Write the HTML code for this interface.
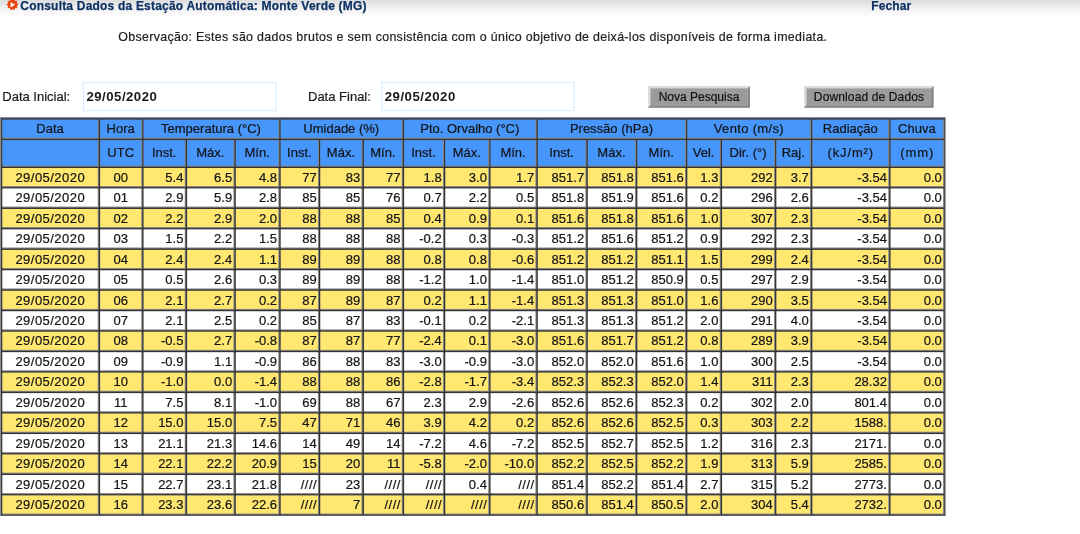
<!DOCTYPE html>
<html lang="pt-BR">
<head>
<meta charset="utf-8">
<title>Consulta Dados da Estação Automática: Monte Verde (MG)</title>
<style>
html,body{margin:0;padding:0;background:#fff;}
body{width:1080px;height:534px;position:relative;overflow:hidden;font-family:"Liberation Sans",sans-serif;color:#1a1a1a;}
.topgrad{position:absolute;left:0;top:0;width:1080px;height:19px;background:linear-gradient(to bottom,#dcdcdc 0,#ececec 6px,#f8f8f8 12px,#ffffff 19px);}
.abs{position:absolute;white-space:nowrap;}
.title{-webkit-text-stroke:0.25px #0f3366;left:20.3px;top:-1.6px;font-size:12px;letter-spacing:0.2px;font-weight:bold;color:#0f3366;line-height:16px;}
.fechar{-webkit-text-stroke:0.25px #0f3366;left:871.2px;top:-1.6px;font-size:12px;letter-spacing:0.12px;font-weight:bold;color:#0f3366;line-height:16px;}
.obs{-webkit-text-stroke:0.2px #222;left:118.3px;top:29.4px;font-size:12.4px;letter-spacing:0.33px;line-height:16px;color:#222;}
.lbl{-webkit-text-stroke:0.2px #1a1a1a;font-size:13px;line-height:16px;color:#1a1a1a;top:89px;}
.inp{box-sizing:border-box;border:1px solid transparent;height:29px;top:82px;font-size:13.2px;font-weight:bold;line-height:27px;padding-left:3.2px;color:#1a1a1a;letter-spacing:0.5px;}
.btn{-webkit-text-stroke:0.2px #111;box-sizing:border-box;top:86px;height:22px;font-size:12px;line-height:22px;text-align:center;color:#111;}
.c{-webkit-text-stroke:0.22px #151515;position:absolute;box-sizing:border-box;white-space:nowrap;overflow:visible;font-size:13px;color:#151515;}
.c span{position:relative;display:inline-block;line-height:inherit;}
.h1 span{top:0px;}
.h2 span{top:0px;}
.d span{top:0;}
.dt span{letter-spacing:0.47px;margin-right:-0.47px;}
.h{text-align:center;}
.ctr{text-align:center;}
.rt{text-align:right;padding-right:1.3px;}
</style>
</head>
<body>
<div class="topgrad"></div>
<svg class="abs" style="left:0;top:0" width="1080" height="534" viewBox="0 0 1080 534"><rect x="0.0" y="117.0" width="945.3" height="398.80" fill="#333333"/>
<rect x="0.0" y="117.0" width="945.3" height="1.0" fill="#8c8c8c"/>
<rect x="0.0" y="117.0" width="1.1" height="398.80" fill="#8c8c8c"/>
<rect x="944.20" y="118.0" width="1.1" height="397.80" fill="#595648"/>
<rect x="1.1" y="118.0" width="943.10" height="1.85" fill="#394b66"/>
<rect x="2.40" y="119.85" width="96.40" height="18.95" fill="#848484"/>
<rect x="2.40" y="119.85" width="95.35" height="17.90" fill="#4796fc"/>
<rect x="100.15" y="119.85" width="42.15" height="18.95" fill="#848484"/>
<rect x="100.15" y="119.85" width="41.10" height="17.90" fill="#4796fc"/>
<rect x="143.65" y="119.85" width="135.75" height="18.95" fill="#848484"/>
<rect x="143.65" y="119.85" width="134.70" height="17.90" fill="#4796fc"/>
<rect x="280.75" y="119.85" width="122.05" height="18.95" fill="#848484"/>
<rect x="280.75" y="119.85" width="121.00" height="17.90" fill="#4796fc"/>
<rect x="404.15" y="119.85" width="132.35" height="18.95" fill="#848484"/>
<rect x="404.15" y="119.85" width="131.30" height="17.90" fill="#4796fc"/>
<rect x="537.85" y="119.85" width="148.25" height="18.95" fill="#848484"/>
<rect x="537.85" y="119.85" width="147.20" height="17.90" fill="#4796fc"/>
<rect x="687.45" y="119.85" width="123.65" height="18.95" fill="#848484"/>
<rect x="687.45" y="119.85" width="122.60" height="17.90" fill="#4796fc"/>
<rect x="812.45" y="119.85" width="76.85" height="18.95" fill="#848484"/>
<rect x="812.45" y="119.85" width="75.80" height="17.90" fill="#4796fc"/>
<rect x="890.65" y="119.85" width="53.45" height="18.95" fill="#848484"/>
<rect x="890.65" y="119.85" width="52.40" height="17.90" fill="#4796fc"/>
<rect x="2.40" y="140.15" width="96.40" height="26.55" fill="#848484"/>
<rect x="2.40" y="140.15" width="95.35" height="25.50" fill="#4796fc"/>
<rect x="100.15" y="140.15" width="42.15" height="26.55" fill="#848484"/>
<rect x="100.15" y="140.15" width="41.10" height="25.50" fill="#4796fc"/>
<rect x="143.65" y="140.15" width="42.15" height="26.55" fill="#848484"/>
<rect x="143.65" y="140.15" width="41.10" height="25.50" fill="#4796fc"/>
<rect x="187.15" y="140.15" width="47.35" height="26.55" fill="#848484"/>
<rect x="187.15" y="140.15" width="46.30" height="25.50" fill="#4796fc"/>
<rect x="235.85" y="140.15" width="43.55" height="26.55" fill="#848484"/>
<rect x="235.85" y="140.15" width="42.50" height="25.50" fill="#4796fc"/>
<rect x="280.75" y="140.15" width="38.25" height="26.55" fill="#848484"/>
<rect x="280.75" y="140.15" width="37.20" height="25.50" fill="#4796fc"/>
<rect x="320.35" y="140.15" width="42.25" height="26.55" fill="#848484"/>
<rect x="320.35" y="140.15" width="41.20" height="25.50" fill="#4796fc"/>
<rect x="363.95" y="140.15" width="38.85" height="26.55" fill="#848484"/>
<rect x="363.95" y="140.15" width="37.80" height="25.50" fill="#4796fc"/>
<rect x="404.15" y="140.15" width="39.85" height="26.55" fill="#848484"/>
<rect x="404.15" y="140.15" width="38.80" height="25.50" fill="#4796fc"/>
<rect x="445.35" y="140.15" width="43.95" height="26.55" fill="#848484"/>
<rect x="445.35" y="140.15" width="42.90" height="25.50" fill="#4796fc"/>
<rect x="490.65" y="140.15" width="45.85" height="26.55" fill="#848484"/>
<rect x="490.65" y="140.15" width="44.80" height="25.50" fill="#4796fc"/>
<rect x="537.85" y="140.15" width="48.65" height="26.55" fill="#848484"/>
<rect x="537.85" y="140.15" width="47.60" height="25.50" fill="#4796fc"/>
<rect x="587.85" y="140.15" width="48.25" height="26.55" fill="#848484"/>
<rect x="587.85" y="140.15" width="47.20" height="25.50" fill="#4796fc"/>
<rect x="637.45" y="140.15" width="48.65" height="26.55" fill="#848484"/>
<rect x="637.45" y="140.15" width="47.60" height="25.50" fill="#4796fc"/>
<rect x="687.45" y="140.15" width="33.35" height="26.55" fill="#848484"/>
<rect x="687.45" y="140.15" width="32.30" height="25.50" fill="#4796fc"/>
<rect x="722.15" y="140.15" width="52.95" height="26.55" fill="#848484"/>
<rect x="722.15" y="140.15" width="51.90" height="25.50" fill="#4796fc"/>
<rect x="776.45" y="140.15" width="34.65" height="26.55" fill="#848484"/>
<rect x="776.45" y="140.15" width="33.60" height="25.50" fill="#4796fc"/>
<rect x="812.45" y="140.15" width="76.85" height="26.55" fill="#848484"/>
<rect x="812.45" y="140.15" width="75.80" height="25.50" fill="#4796fc"/>
<rect x="890.65" y="140.15" width="53.45" height="26.55" fill="#848484"/>
<rect x="890.65" y="140.15" width="52.40" height="25.50" fill="#4796fc"/>
<rect x="2.40" y="168.05" width="96.40" height="19.11" fill="#848484"/>
<rect x="2.40" y="168.05" width="95.35" height="18.06" fill="#ffe770"/>
<rect x="100.15" y="168.05" width="42.15" height="19.11" fill="#848484"/>
<rect x="100.15" y="168.05" width="41.10" height="18.06" fill="#ffe770"/>
<rect x="143.65" y="168.05" width="42.15" height="19.11" fill="#848484"/>
<rect x="143.65" y="168.05" width="41.10" height="18.06" fill="#ffe770"/>
<rect x="187.15" y="168.05" width="47.35" height="19.11" fill="#848484"/>
<rect x="187.15" y="168.05" width="46.30" height="18.06" fill="#ffe770"/>
<rect x="235.85" y="168.05" width="43.55" height="19.11" fill="#848484"/>
<rect x="235.85" y="168.05" width="42.50" height="18.06" fill="#ffe770"/>
<rect x="280.75" y="168.05" width="38.25" height="19.11" fill="#848484"/>
<rect x="280.75" y="168.05" width="37.20" height="18.06" fill="#ffe770"/>
<rect x="320.35" y="168.05" width="42.25" height="19.11" fill="#848484"/>
<rect x="320.35" y="168.05" width="41.20" height="18.06" fill="#ffe770"/>
<rect x="363.95" y="168.05" width="38.85" height="19.11" fill="#848484"/>
<rect x="363.95" y="168.05" width="37.80" height="18.06" fill="#ffe770"/>
<rect x="404.15" y="168.05" width="39.85" height="19.11" fill="#848484"/>
<rect x="404.15" y="168.05" width="38.80" height="18.06" fill="#ffe770"/>
<rect x="445.35" y="168.05" width="43.95" height="19.11" fill="#848484"/>
<rect x="445.35" y="168.05" width="42.90" height="18.06" fill="#ffe770"/>
<rect x="490.65" y="168.05" width="45.85" height="19.11" fill="#848484"/>
<rect x="490.65" y="168.05" width="44.80" height="18.06" fill="#ffe770"/>
<rect x="537.85" y="168.05" width="48.65" height="19.11" fill="#848484"/>
<rect x="537.85" y="168.05" width="47.60" height="18.06" fill="#ffe770"/>
<rect x="587.85" y="168.05" width="48.25" height="19.11" fill="#848484"/>
<rect x="587.85" y="168.05" width="47.20" height="18.06" fill="#ffe770"/>
<rect x="637.45" y="168.05" width="48.65" height="19.11" fill="#848484"/>
<rect x="637.45" y="168.05" width="47.60" height="18.06" fill="#ffe770"/>
<rect x="687.45" y="168.05" width="33.35" height="19.11" fill="#848484"/>
<rect x="687.45" y="168.05" width="32.30" height="18.06" fill="#ffe770"/>
<rect x="722.15" y="168.05" width="52.95" height="19.11" fill="#848484"/>
<rect x="722.15" y="168.05" width="51.90" height="18.06" fill="#ffe770"/>
<rect x="776.45" y="168.05" width="34.65" height="19.11" fill="#848484"/>
<rect x="776.45" y="168.05" width="33.60" height="18.06" fill="#ffe770"/>
<rect x="812.45" y="168.05" width="76.85" height="19.11" fill="#848484"/>
<rect x="812.45" y="168.05" width="75.80" height="18.06" fill="#ffe770"/>
<rect x="890.65" y="168.05" width="53.45" height="19.11" fill="#848484"/>
<rect x="890.65" y="168.05" width="52.40" height="18.06" fill="#ffe770"/>
<rect x="2.40" y="188.52" width="96.40" height="19.11" fill="#848484"/>
<rect x="2.40" y="188.52" width="95.35" height="18.06" fill="#ffffff"/>
<rect x="100.15" y="188.52" width="42.15" height="19.11" fill="#848484"/>
<rect x="100.15" y="188.52" width="41.10" height="18.06" fill="#ffffff"/>
<rect x="143.65" y="188.52" width="42.15" height="19.11" fill="#848484"/>
<rect x="143.65" y="188.52" width="41.10" height="18.06" fill="#ffffff"/>
<rect x="187.15" y="188.52" width="47.35" height="19.11" fill="#848484"/>
<rect x="187.15" y="188.52" width="46.30" height="18.06" fill="#ffffff"/>
<rect x="235.85" y="188.52" width="43.55" height="19.11" fill="#848484"/>
<rect x="235.85" y="188.52" width="42.50" height="18.06" fill="#ffffff"/>
<rect x="280.75" y="188.52" width="38.25" height="19.11" fill="#848484"/>
<rect x="280.75" y="188.52" width="37.20" height="18.06" fill="#ffffff"/>
<rect x="320.35" y="188.52" width="42.25" height="19.11" fill="#848484"/>
<rect x="320.35" y="188.52" width="41.20" height="18.06" fill="#ffffff"/>
<rect x="363.95" y="188.52" width="38.85" height="19.11" fill="#848484"/>
<rect x="363.95" y="188.52" width="37.80" height="18.06" fill="#ffffff"/>
<rect x="404.15" y="188.52" width="39.85" height="19.11" fill="#848484"/>
<rect x="404.15" y="188.52" width="38.80" height="18.06" fill="#ffffff"/>
<rect x="445.35" y="188.52" width="43.95" height="19.11" fill="#848484"/>
<rect x="445.35" y="188.52" width="42.90" height="18.06" fill="#ffffff"/>
<rect x="490.65" y="188.52" width="45.85" height="19.11" fill="#848484"/>
<rect x="490.65" y="188.52" width="44.80" height="18.06" fill="#ffffff"/>
<rect x="537.85" y="188.52" width="48.65" height="19.11" fill="#848484"/>
<rect x="537.85" y="188.52" width="47.60" height="18.06" fill="#ffffff"/>
<rect x="587.85" y="188.52" width="48.25" height="19.11" fill="#848484"/>
<rect x="587.85" y="188.52" width="47.20" height="18.06" fill="#ffffff"/>
<rect x="637.45" y="188.52" width="48.65" height="19.11" fill="#848484"/>
<rect x="637.45" y="188.52" width="47.60" height="18.06" fill="#ffffff"/>
<rect x="687.45" y="188.52" width="33.35" height="19.11" fill="#848484"/>
<rect x="687.45" y="188.52" width="32.30" height="18.06" fill="#ffffff"/>
<rect x="722.15" y="188.52" width="52.95" height="19.11" fill="#848484"/>
<rect x="722.15" y="188.52" width="51.90" height="18.06" fill="#ffffff"/>
<rect x="776.45" y="188.52" width="34.65" height="19.11" fill="#848484"/>
<rect x="776.45" y="188.52" width="33.60" height="18.06" fill="#ffffff"/>
<rect x="812.45" y="188.52" width="76.85" height="19.11" fill="#848484"/>
<rect x="812.45" y="188.52" width="75.80" height="18.06" fill="#ffffff"/>
<rect x="890.65" y="188.52" width="53.45" height="19.11" fill="#848484"/>
<rect x="890.65" y="188.52" width="52.40" height="18.06" fill="#ffffff"/>
<rect x="2.40" y="208.98" width="96.40" height="19.11" fill="#848484"/>
<rect x="2.40" y="208.98" width="95.35" height="18.06" fill="#ffe770"/>
<rect x="100.15" y="208.98" width="42.15" height="19.11" fill="#848484"/>
<rect x="100.15" y="208.98" width="41.10" height="18.06" fill="#ffe770"/>
<rect x="143.65" y="208.98" width="42.15" height="19.11" fill="#848484"/>
<rect x="143.65" y="208.98" width="41.10" height="18.06" fill="#ffe770"/>
<rect x="187.15" y="208.98" width="47.35" height="19.11" fill="#848484"/>
<rect x="187.15" y="208.98" width="46.30" height="18.06" fill="#ffe770"/>
<rect x="235.85" y="208.98" width="43.55" height="19.11" fill="#848484"/>
<rect x="235.85" y="208.98" width="42.50" height="18.06" fill="#ffe770"/>
<rect x="280.75" y="208.98" width="38.25" height="19.11" fill="#848484"/>
<rect x="280.75" y="208.98" width="37.20" height="18.06" fill="#ffe770"/>
<rect x="320.35" y="208.98" width="42.25" height="19.11" fill="#848484"/>
<rect x="320.35" y="208.98" width="41.20" height="18.06" fill="#ffe770"/>
<rect x="363.95" y="208.98" width="38.85" height="19.11" fill="#848484"/>
<rect x="363.95" y="208.98" width="37.80" height="18.06" fill="#ffe770"/>
<rect x="404.15" y="208.98" width="39.85" height="19.11" fill="#848484"/>
<rect x="404.15" y="208.98" width="38.80" height="18.06" fill="#ffe770"/>
<rect x="445.35" y="208.98" width="43.95" height="19.11" fill="#848484"/>
<rect x="445.35" y="208.98" width="42.90" height="18.06" fill="#ffe770"/>
<rect x="490.65" y="208.98" width="45.85" height="19.11" fill="#848484"/>
<rect x="490.65" y="208.98" width="44.80" height="18.06" fill="#ffe770"/>
<rect x="537.85" y="208.98" width="48.65" height="19.11" fill="#848484"/>
<rect x="537.85" y="208.98" width="47.60" height="18.06" fill="#ffe770"/>
<rect x="587.85" y="208.98" width="48.25" height="19.11" fill="#848484"/>
<rect x="587.85" y="208.98" width="47.20" height="18.06" fill="#ffe770"/>
<rect x="637.45" y="208.98" width="48.65" height="19.11" fill="#848484"/>
<rect x="637.45" y="208.98" width="47.60" height="18.06" fill="#ffe770"/>
<rect x="687.45" y="208.98" width="33.35" height="19.11" fill="#848484"/>
<rect x="687.45" y="208.98" width="32.30" height="18.06" fill="#ffe770"/>
<rect x="722.15" y="208.98" width="52.95" height="19.11" fill="#848484"/>
<rect x="722.15" y="208.98" width="51.90" height="18.06" fill="#ffe770"/>
<rect x="776.45" y="208.98" width="34.65" height="19.11" fill="#848484"/>
<rect x="776.45" y="208.98" width="33.60" height="18.06" fill="#ffe770"/>
<rect x="812.45" y="208.98" width="76.85" height="19.11" fill="#848484"/>
<rect x="812.45" y="208.98" width="75.80" height="18.06" fill="#ffe770"/>
<rect x="890.65" y="208.98" width="53.45" height="19.11" fill="#848484"/>
<rect x="890.65" y="208.98" width="52.40" height="18.06" fill="#ffe770"/>
<rect x="2.40" y="229.45" width="96.40" height="19.11" fill="#848484"/>
<rect x="2.40" y="229.45" width="95.35" height="18.06" fill="#ffffff"/>
<rect x="100.15" y="229.45" width="42.15" height="19.11" fill="#848484"/>
<rect x="100.15" y="229.45" width="41.10" height="18.06" fill="#ffffff"/>
<rect x="143.65" y="229.45" width="42.15" height="19.11" fill="#848484"/>
<rect x="143.65" y="229.45" width="41.10" height="18.06" fill="#ffffff"/>
<rect x="187.15" y="229.45" width="47.35" height="19.11" fill="#848484"/>
<rect x="187.15" y="229.45" width="46.30" height="18.06" fill="#ffffff"/>
<rect x="235.85" y="229.45" width="43.55" height="19.11" fill="#848484"/>
<rect x="235.85" y="229.45" width="42.50" height="18.06" fill="#ffffff"/>
<rect x="280.75" y="229.45" width="38.25" height="19.11" fill="#848484"/>
<rect x="280.75" y="229.45" width="37.20" height="18.06" fill="#ffffff"/>
<rect x="320.35" y="229.45" width="42.25" height="19.11" fill="#848484"/>
<rect x="320.35" y="229.45" width="41.20" height="18.06" fill="#ffffff"/>
<rect x="363.95" y="229.45" width="38.85" height="19.11" fill="#848484"/>
<rect x="363.95" y="229.45" width="37.80" height="18.06" fill="#ffffff"/>
<rect x="404.15" y="229.45" width="39.85" height="19.11" fill="#848484"/>
<rect x="404.15" y="229.45" width="38.80" height="18.06" fill="#ffffff"/>
<rect x="445.35" y="229.45" width="43.95" height="19.11" fill="#848484"/>
<rect x="445.35" y="229.45" width="42.90" height="18.06" fill="#ffffff"/>
<rect x="490.65" y="229.45" width="45.85" height="19.11" fill="#848484"/>
<rect x="490.65" y="229.45" width="44.80" height="18.06" fill="#ffffff"/>
<rect x="537.85" y="229.45" width="48.65" height="19.11" fill="#848484"/>
<rect x="537.85" y="229.45" width="47.60" height="18.06" fill="#ffffff"/>
<rect x="587.85" y="229.45" width="48.25" height="19.11" fill="#848484"/>
<rect x="587.85" y="229.45" width="47.20" height="18.06" fill="#ffffff"/>
<rect x="637.45" y="229.45" width="48.65" height="19.11" fill="#848484"/>
<rect x="637.45" y="229.45" width="47.60" height="18.06" fill="#ffffff"/>
<rect x="687.45" y="229.45" width="33.35" height="19.11" fill="#848484"/>
<rect x="687.45" y="229.45" width="32.30" height="18.06" fill="#ffffff"/>
<rect x="722.15" y="229.45" width="52.95" height="19.11" fill="#848484"/>
<rect x="722.15" y="229.45" width="51.90" height="18.06" fill="#ffffff"/>
<rect x="776.45" y="229.45" width="34.65" height="19.11" fill="#848484"/>
<rect x="776.45" y="229.45" width="33.60" height="18.06" fill="#ffffff"/>
<rect x="812.45" y="229.45" width="76.85" height="19.11" fill="#848484"/>
<rect x="812.45" y="229.45" width="75.80" height="18.06" fill="#ffffff"/>
<rect x="890.65" y="229.45" width="53.45" height="19.11" fill="#848484"/>
<rect x="890.65" y="229.45" width="52.40" height="18.06" fill="#ffffff"/>
<rect x="2.40" y="249.91" width="96.40" height="19.12" fill="#848484"/>
<rect x="2.40" y="249.91" width="95.35" height="18.07" fill="#ffe770"/>
<rect x="100.15" y="249.91" width="42.15" height="19.12" fill="#848484"/>
<rect x="100.15" y="249.91" width="41.10" height="18.07" fill="#ffe770"/>
<rect x="143.65" y="249.91" width="42.15" height="19.12" fill="#848484"/>
<rect x="143.65" y="249.91" width="41.10" height="18.07" fill="#ffe770"/>
<rect x="187.15" y="249.91" width="47.35" height="19.12" fill="#848484"/>
<rect x="187.15" y="249.91" width="46.30" height="18.07" fill="#ffe770"/>
<rect x="235.85" y="249.91" width="43.55" height="19.12" fill="#848484"/>
<rect x="235.85" y="249.91" width="42.50" height="18.07" fill="#ffe770"/>
<rect x="280.75" y="249.91" width="38.25" height="19.12" fill="#848484"/>
<rect x="280.75" y="249.91" width="37.20" height="18.07" fill="#ffe770"/>
<rect x="320.35" y="249.91" width="42.25" height="19.12" fill="#848484"/>
<rect x="320.35" y="249.91" width="41.20" height="18.07" fill="#ffe770"/>
<rect x="363.95" y="249.91" width="38.85" height="19.12" fill="#848484"/>
<rect x="363.95" y="249.91" width="37.80" height="18.07" fill="#ffe770"/>
<rect x="404.15" y="249.91" width="39.85" height="19.12" fill="#848484"/>
<rect x="404.15" y="249.91" width="38.80" height="18.07" fill="#ffe770"/>
<rect x="445.35" y="249.91" width="43.95" height="19.12" fill="#848484"/>
<rect x="445.35" y="249.91" width="42.90" height="18.07" fill="#ffe770"/>
<rect x="490.65" y="249.91" width="45.85" height="19.12" fill="#848484"/>
<rect x="490.65" y="249.91" width="44.80" height="18.07" fill="#ffe770"/>
<rect x="537.85" y="249.91" width="48.65" height="19.12" fill="#848484"/>
<rect x="537.85" y="249.91" width="47.60" height="18.07" fill="#ffe770"/>
<rect x="587.85" y="249.91" width="48.25" height="19.12" fill="#848484"/>
<rect x="587.85" y="249.91" width="47.20" height="18.07" fill="#ffe770"/>
<rect x="637.45" y="249.91" width="48.65" height="19.12" fill="#848484"/>
<rect x="637.45" y="249.91" width="47.60" height="18.07" fill="#ffe770"/>
<rect x="687.45" y="249.91" width="33.35" height="19.12" fill="#848484"/>
<rect x="687.45" y="249.91" width="32.30" height="18.07" fill="#ffe770"/>
<rect x="722.15" y="249.91" width="52.95" height="19.12" fill="#848484"/>
<rect x="722.15" y="249.91" width="51.90" height="18.07" fill="#ffe770"/>
<rect x="776.45" y="249.91" width="34.65" height="19.12" fill="#848484"/>
<rect x="776.45" y="249.91" width="33.60" height="18.07" fill="#ffe770"/>
<rect x="812.45" y="249.91" width="76.85" height="19.12" fill="#848484"/>
<rect x="812.45" y="249.91" width="75.80" height="18.07" fill="#ffe770"/>
<rect x="890.65" y="249.91" width="53.45" height="19.12" fill="#848484"/>
<rect x="890.65" y="249.91" width="52.40" height="18.07" fill="#ffe770"/>
<rect x="2.40" y="270.38" width="96.40" height="19.11" fill="#848484"/>
<rect x="2.40" y="270.38" width="95.35" height="18.06" fill="#ffffff"/>
<rect x="100.15" y="270.38" width="42.15" height="19.11" fill="#848484"/>
<rect x="100.15" y="270.38" width="41.10" height="18.06" fill="#ffffff"/>
<rect x="143.65" y="270.38" width="42.15" height="19.11" fill="#848484"/>
<rect x="143.65" y="270.38" width="41.10" height="18.06" fill="#ffffff"/>
<rect x="187.15" y="270.38" width="47.35" height="19.11" fill="#848484"/>
<rect x="187.15" y="270.38" width="46.30" height="18.06" fill="#ffffff"/>
<rect x="235.85" y="270.38" width="43.55" height="19.11" fill="#848484"/>
<rect x="235.85" y="270.38" width="42.50" height="18.06" fill="#ffffff"/>
<rect x="280.75" y="270.38" width="38.25" height="19.11" fill="#848484"/>
<rect x="280.75" y="270.38" width="37.20" height="18.06" fill="#ffffff"/>
<rect x="320.35" y="270.38" width="42.25" height="19.11" fill="#848484"/>
<rect x="320.35" y="270.38" width="41.20" height="18.06" fill="#ffffff"/>
<rect x="363.95" y="270.38" width="38.85" height="19.11" fill="#848484"/>
<rect x="363.95" y="270.38" width="37.80" height="18.06" fill="#ffffff"/>
<rect x="404.15" y="270.38" width="39.85" height="19.11" fill="#848484"/>
<rect x="404.15" y="270.38" width="38.80" height="18.06" fill="#ffffff"/>
<rect x="445.35" y="270.38" width="43.95" height="19.11" fill="#848484"/>
<rect x="445.35" y="270.38" width="42.90" height="18.06" fill="#ffffff"/>
<rect x="490.65" y="270.38" width="45.85" height="19.11" fill="#848484"/>
<rect x="490.65" y="270.38" width="44.80" height="18.06" fill="#ffffff"/>
<rect x="537.85" y="270.38" width="48.65" height="19.11" fill="#848484"/>
<rect x="537.85" y="270.38" width="47.60" height="18.06" fill="#ffffff"/>
<rect x="587.85" y="270.38" width="48.25" height="19.11" fill="#848484"/>
<rect x="587.85" y="270.38" width="47.20" height="18.06" fill="#ffffff"/>
<rect x="637.45" y="270.38" width="48.65" height="19.11" fill="#848484"/>
<rect x="637.45" y="270.38" width="47.60" height="18.06" fill="#ffffff"/>
<rect x="687.45" y="270.38" width="33.35" height="19.11" fill="#848484"/>
<rect x="687.45" y="270.38" width="32.30" height="18.06" fill="#ffffff"/>
<rect x="722.15" y="270.38" width="52.95" height="19.11" fill="#848484"/>
<rect x="722.15" y="270.38" width="51.90" height="18.06" fill="#ffffff"/>
<rect x="776.45" y="270.38" width="34.65" height="19.11" fill="#848484"/>
<rect x="776.45" y="270.38" width="33.60" height="18.06" fill="#ffffff"/>
<rect x="812.45" y="270.38" width="76.85" height="19.11" fill="#848484"/>
<rect x="812.45" y="270.38" width="75.80" height="18.06" fill="#ffffff"/>
<rect x="890.65" y="270.38" width="53.45" height="19.11" fill="#848484"/>
<rect x="890.65" y="270.38" width="52.40" height="18.06" fill="#ffffff"/>
<rect x="2.40" y="290.84" width="96.40" height="19.11" fill="#848484"/>
<rect x="2.40" y="290.84" width="95.35" height="18.06" fill="#ffe770"/>
<rect x="100.15" y="290.84" width="42.15" height="19.11" fill="#848484"/>
<rect x="100.15" y="290.84" width="41.10" height="18.06" fill="#ffe770"/>
<rect x="143.65" y="290.84" width="42.15" height="19.11" fill="#848484"/>
<rect x="143.65" y="290.84" width="41.10" height="18.06" fill="#ffe770"/>
<rect x="187.15" y="290.84" width="47.35" height="19.11" fill="#848484"/>
<rect x="187.15" y="290.84" width="46.30" height="18.06" fill="#ffe770"/>
<rect x="235.85" y="290.84" width="43.55" height="19.11" fill="#848484"/>
<rect x="235.85" y="290.84" width="42.50" height="18.06" fill="#ffe770"/>
<rect x="280.75" y="290.84" width="38.25" height="19.11" fill="#848484"/>
<rect x="280.75" y="290.84" width="37.20" height="18.06" fill="#ffe770"/>
<rect x="320.35" y="290.84" width="42.25" height="19.11" fill="#848484"/>
<rect x="320.35" y="290.84" width="41.20" height="18.06" fill="#ffe770"/>
<rect x="363.95" y="290.84" width="38.85" height="19.11" fill="#848484"/>
<rect x="363.95" y="290.84" width="37.80" height="18.06" fill="#ffe770"/>
<rect x="404.15" y="290.84" width="39.85" height="19.11" fill="#848484"/>
<rect x="404.15" y="290.84" width="38.80" height="18.06" fill="#ffe770"/>
<rect x="445.35" y="290.84" width="43.95" height="19.11" fill="#848484"/>
<rect x="445.35" y="290.84" width="42.90" height="18.06" fill="#ffe770"/>
<rect x="490.65" y="290.84" width="45.85" height="19.11" fill="#848484"/>
<rect x="490.65" y="290.84" width="44.80" height="18.06" fill="#ffe770"/>
<rect x="537.85" y="290.84" width="48.65" height="19.11" fill="#848484"/>
<rect x="537.85" y="290.84" width="47.60" height="18.06" fill="#ffe770"/>
<rect x="587.85" y="290.84" width="48.25" height="19.11" fill="#848484"/>
<rect x="587.85" y="290.84" width="47.20" height="18.06" fill="#ffe770"/>
<rect x="637.45" y="290.84" width="48.65" height="19.11" fill="#848484"/>
<rect x="637.45" y="290.84" width="47.60" height="18.06" fill="#ffe770"/>
<rect x="687.45" y="290.84" width="33.35" height="19.11" fill="#848484"/>
<rect x="687.45" y="290.84" width="32.30" height="18.06" fill="#ffe770"/>
<rect x="722.15" y="290.84" width="52.95" height="19.11" fill="#848484"/>
<rect x="722.15" y="290.84" width="51.90" height="18.06" fill="#ffe770"/>
<rect x="776.45" y="290.84" width="34.65" height="19.11" fill="#848484"/>
<rect x="776.45" y="290.84" width="33.60" height="18.06" fill="#ffe770"/>
<rect x="812.45" y="290.84" width="76.85" height="19.11" fill="#848484"/>
<rect x="812.45" y="290.84" width="75.80" height="18.06" fill="#ffe770"/>
<rect x="890.65" y="290.84" width="53.45" height="19.11" fill="#848484"/>
<rect x="890.65" y="290.84" width="52.40" height="18.06" fill="#ffe770"/>
<rect x="2.40" y="311.30" width="96.40" height="19.12" fill="#848484"/>
<rect x="2.40" y="311.30" width="95.35" height="18.07" fill="#ffffff"/>
<rect x="100.15" y="311.30" width="42.15" height="19.12" fill="#848484"/>
<rect x="100.15" y="311.30" width="41.10" height="18.07" fill="#ffffff"/>
<rect x="143.65" y="311.30" width="42.15" height="19.12" fill="#848484"/>
<rect x="143.65" y="311.30" width="41.10" height="18.07" fill="#ffffff"/>
<rect x="187.15" y="311.30" width="47.35" height="19.12" fill="#848484"/>
<rect x="187.15" y="311.30" width="46.30" height="18.07" fill="#ffffff"/>
<rect x="235.85" y="311.30" width="43.55" height="19.12" fill="#848484"/>
<rect x="235.85" y="311.30" width="42.50" height="18.07" fill="#ffffff"/>
<rect x="280.75" y="311.30" width="38.25" height="19.12" fill="#848484"/>
<rect x="280.75" y="311.30" width="37.20" height="18.07" fill="#ffffff"/>
<rect x="320.35" y="311.30" width="42.25" height="19.12" fill="#848484"/>
<rect x="320.35" y="311.30" width="41.20" height="18.07" fill="#ffffff"/>
<rect x="363.95" y="311.30" width="38.85" height="19.12" fill="#848484"/>
<rect x="363.95" y="311.30" width="37.80" height="18.07" fill="#ffffff"/>
<rect x="404.15" y="311.30" width="39.85" height="19.12" fill="#848484"/>
<rect x="404.15" y="311.30" width="38.80" height="18.07" fill="#ffffff"/>
<rect x="445.35" y="311.30" width="43.95" height="19.12" fill="#848484"/>
<rect x="445.35" y="311.30" width="42.90" height="18.07" fill="#ffffff"/>
<rect x="490.65" y="311.30" width="45.85" height="19.12" fill="#848484"/>
<rect x="490.65" y="311.30" width="44.80" height="18.07" fill="#ffffff"/>
<rect x="537.85" y="311.30" width="48.65" height="19.12" fill="#848484"/>
<rect x="537.85" y="311.30" width="47.60" height="18.07" fill="#ffffff"/>
<rect x="587.85" y="311.30" width="48.25" height="19.12" fill="#848484"/>
<rect x="587.85" y="311.30" width="47.20" height="18.07" fill="#ffffff"/>
<rect x="637.45" y="311.30" width="48.65" height="19.12" fill="#848484"/>
<rect x="637.45" y="311.30" width="47.60" height="18.07" fill="#ffffff"/>
<rect x="687.45" y="311.30" width="33.35" height="19.12" fill="#848484"/>
<rect x="687.45" y="311.30" width="32.30" height="18.07" fill="#ffffff"/>
<rect x="722.15" y="311.30" width="52.95" height="19.12" fill="#848484"/>
<rect x="722.15" y="311.30" width="51.90" height="18.07" fill="#ffffff"/>
<rect x="776.45" y="311.30" width="34.65" height="19.12" fill="#848484"/>
<rect x="776.45" y="311.30" width="33.60" height="18.07" fill="#ffffff"/>
<rect x="812.45" y="311.30" width="76.85" height="19.12" fill="#848484"/>
<rect x="812.45" y="311.30" width="75.80" height="18.07" fill="#ffffff"/>
<rect x="890.65" y="311.30" width="53.45" height="19.12" fill="#848484"/>
<rect x="890.65" y="311.30" width="52.40" height="18.07" fill="#ffffff"/>
<rect x="2.40" y="331.77" width="96.40" height="19.12" fill="#848484"/>
<rect x="2.40" y="331.77" width="95.35" height="18.07" fill="#ffe770"/>
<rect x="100.15" y="331.77" width="42.15" height="19.12" fill="#848484"/>
<rect x="100.15" y="331.77" width="41.10" height="18.07" fill="#ffe770"/>
<rect x="143.65" y="331.77" width="42.15" height="19.12" fill="#848484"/>
<rect x="143.65" y="331.77" width="41.10" height="18.07" fill="#ffe770"/>
<rect x="187.15" y="331.77" width="47.35" height="19.12" fill="#848484"/>
<rect x="187.15" y="331.77" width="46.30" height="18.07" fill="#ffe770"/>
<rect x="235.85" y="331.77" width="43.55" height="19.12" fill="#848484"/>
<rect x="235.85" y="331.77" width="42.50" height="18.07" fill="#ffe770"/>
<rect x="280.75" y="331.77" width="38.25" height="19.12" fill="#848484"/>
<rect x="280.75" y="331.77" width="37.20" height="18.07" fill="#ffe770"/>
<rect x="320.35" y="331.77" width="42.25" height="19.12" fill="#848484"/>
<rect x="320.35" y="331.77" width="41.20" height="18.07" fill="#ffe770"/>
<rect x="363.95" y="331.77" width="38.85" height="19.12" fill="#848484"/>
<rect x="363.95" y="331.77" width="37.80" height="18.07" fill="#ffe770"/>
<rect x="404.15" y="331.77" width="39.85" height="19.12" fill="#848484"/>
<rect x="404.15" y="331.77" width="38.80" height="18.07" fill="#ffe770"/>
<rect x="445.35" y="331.77" width="43.95" height="19.12" fill="#848484"/>
<rect x="445.35" y="331.77" width="42.90" height="18.07" fill="#ffe770"/>
<rect x="490.65" y="331.77" width="45.85" height="19.12" fill="#848484"/>
<rect x="490.65" y="331.77" width="44.80" height="18.07" fill="#ffe770"/>
<rect x="537.85" y="331.77" width="48.65" height="19.12" fill="#848484"/>
<rect x="537.85" y="331.77" width="47.60" height="18.07" fill="#ffe770"/>
<rect x="587.85" y="331.77" width="48.25" height="19.12" fill="#848484"/>
<rect x="587.85" y="331.77" width="47.20" height="18.07" fill="#ffe770"/>
<rect x="637.45" y="331.77" width="48.65" height="19.12" fill="#848484"/>
<rect x="637.45" y="331.77" width="47.60" height="18.07" fill="#ffe770"/>
<rect x="687.45" y="331.77" width="33.35" height="19.12" fill="#848484"/>
<rect x="687.45" y="331.77" width="32.30" height="18.07" fill="#ffe770"/>
<rect x="722.15" y="331.77" width="52.95" height="19.12" fill="#848484"/>
<rect x="722.15" y="331.77" width="51.90" height="18.07" fill="#ffe770"/>
<rect x="776.45" y="331.77" width="34.65" height="19.12" fill="#848484"/>
<rect x="776.45" y="331.77" width="33.60" height="18.07" fill="#ffe770"/>
<rect x="812.45" y="331.77" width="76.85" height="19.12" fill="#848484"/>
<rect x="812.45" y="331.77" width="75.80" height="18.07" fill="#ffe770"/>
<rect x="890.65" y="331.77" width="53.45" height="19.12" fill="#848484"/>
<rect x="890.65" y="331.77" width="52.40" height="18.07" fill="#ffe770"/>
<rect x="2.40" y="352.24" width="96.40" height="19.11" fill="#848484"/>
<rect x="2.40" y="352.24" width="95.35" height="18.06" fill="#ffffff"/>
<rect x="100.15" y="352.24" width="42.15" height="19.11" fill="#848484"/>
<rect x="100.15" y="352.24" width="41.10" height="18.06" fill="#ffffff"/>
<rect x="143.65" y="352.24" width="42.15" height="19.11" fill="#848484"/>
<rect x="143.65" y="352.24" width="41.10" height="18.06" fill="#ffffff"/>
<rect x="187.15" y="352.24" width="47.35" height="19.11" fill="#848484"/>
<rect x="187.15" y="352.24" width="46.30" height="18.06" fill="#ffffff"/>
<rect x="235.85" y="352.24" width="43.55" height="19.11" fill="#848484"/>
<rect x="235.85" y="352.24" width="42.50" height="18.06" fill="#ffffff"/>
<rect x="280.75" y="352.24" width="38.25" height="19.11" fill="#848484"/>
<rect x="280.75" y="352.24" width="37.20" height="18.06" fill="#ffffff"/>
<rect x="320.35" y="352.24" width="42.25" height="19.11" fill="#848484"/>
<rect x="320.35" y="352.24" width="41.20" height="18.06" fill="#ffffff"/>
<rect x="363.95" y="352.24" width="38.85" height="19.11" fill="#848484"/>
<rect x="363.95" y="352.24" width="37.80" height="18.06" fill="#ffffff"/>
<rect x="404.15" y="352.24" width="39.85" height="19.11" fill="#848484"/>
<rect x="404.15" y="352.24" width="38.80" height="18.06" fill="#ffffff"/>
<rect x="445.35" y="352.24" width="43.95" height="19.11" fill="#848484"/>
<rect x="445.35" y="352.24" width="42.90" height="18.06" fill="#ffffff"/>
<rect x="490.65" y="352.24" width="45.85" height="19.11" fill="#848484"/>
<rect x="490.65" y="352.24" width="44.80" height="18.06" fill="#ffffff"/>
<rect x="537.85" y="352.24" width="48.65" height="19.11" fill="#848484"/>
<rect x="537.85" y="352.24" width="47.60" height="18.06" fill="#ffffff"/>
<rect x="587.85" y="352.24" width="48.25" height="19.11" fill="#848484"/>
<rect x="587.85" y="352.24" width="47.20" height="18.06" fill="#ffffff"/>
<rect x="637.45" y="352.24" width="48.65" height="19.11" fill="#848484"/>
<rect x="637.45" y="352.24" width="47.60" height="18.06" fill="#ffffff"/>
<rect x="687.45" y="352.24" width="33.35" height="19.11" fill="#848484"/>
<rect x="687.45" y="352.24" width="32.30" height="18.06" fill="#ffffff"/>
<rect x="722.15" y="352.24" width="52.95" height="19.11" fill="#848484"/>
<rect x="722.15" y="352.24" width="51.90" height="18.06" fill="#ffffff"/>
<rect x="776.45" y="352.24" width="34.65" height="19.11" fill="#848484"/>
<rect x="776.45" y="352.24" width="33.60" height="18.06" fill="#ffffff"/>
<rect x="812.45" y="352.24" width="76.85" height="19.11" fill="#848484"/>
<rect x="812.45" y="352.24" width="75.80" height="18.06" fill="#ffffff"/>
<rect x="890.65" y="352.24" width="53.45" height="19.11" fill="#848484"/>
<rect x="890.65" y="352.24" width="52.40" height="18.06" fill="#ffffff"/>
<rect x="2.40" y="372.70" width="96.40" height="19.11" fill="#848484"/>
<rect x="2.40" y="372.70" width="95.35" height="18.06" fill="#ffe770"/>
<rect x="100.15" y="372.70" width="42.15" height="19.11" fill="#848484"/>
<rect x="100.15" y="372.70" width="41.10" height="18.06" fill="#ffe770"/>
<rect x="143.65" y="372.70" width="42.15" height="19.11" fill="#848484"/>
<rect x="143.65" y="372.70" width="41.10" height="18.06" fill="#ffe770"/>
<rect x="187.15" y="372.70" width="47.35" height="19.11" fill="#848484"/>
<rect x="187.15" y="372.70" width="46.30" height="18.06" fill="#ffe770"/>
<rect x="235.85" y="372.70" width="43.55" height="19.11" fill="#848484"/>
<rect x="235.85" y="372.70" width="42.50" height="18.06" fill="#ffe770"/>
<rect x="280.75" y="372.70" width="38.25" height="19.11" fill="#848484"/>
<rect x="280.75" y="372.70" width="37.20" height="18.06" fill="#ffe770"/>
<rect x="320.35" y="372.70" width="42.25" height="19.11" fill="#848484"/>
<rect x="320.35" y="372.70" width="41.20" height="18.06" fill="#ffe770"/>
<rect x="363.95" y="372.70" width="38.85" height="19.11" fill="#848484"/>
<rect x="363.95" y="372.70" width="37.80" height="18.06" fill="#ffe770"/>
<rect x="404.15" y="372.70" width="39.85" height="19.11" fill="#848484"/>
<rect x="404.15" y="372.70" width="38.80" height="18.06" fill="#ffe770"/>
<rect x="445.35" y="372.70" width="43.95" height="19.11" fill="#848484"/>
<rect x="445.35" y="372.70" width="42.90" height="18.06" fill="#ffe770"/>
<rect x="490.65" y="372.70" width="45.85" height="19.11" fill="#848484"/>
<rect x="490.65" y="372.70" width="44.80" height="18.06" fill="#ffe770"/>
<rect x="537.85" y="372.70" width="48.65" height="19.11" fill="#848484"/>
<rect x="537.85" y="372.70" width="47.60" height="18.06" fill="#ffe770"/>
<rect x="587.85" y="372.70" width="48.25" height="19.11" fill="#848484"/>
<rect x="587.85" y="372.70" width="47.20" height="18.06" fill="#ffe770"/>
<rect x="637.45" y="372.70" width="48.65" height="19.11" fill="#848484"/>
<rect x="637.45" y="372.70" width="47.60" height="18.06" fill="#ffe770"/>
<rect x="687.45" y="372.70" width="33.35" height="19.11" fill="#848484"/>
<rect x="687.45" y="372.70" width="32.30" height="18.06" fill="#ffe770"/>
<rect x="722.15" y="372.70" width="52.95" height="19.11" fill="#848484"/>
<rect x="722.15" y="372.70" width="51.90" height="18.06" fill="#ffe770"/>
<rect x="776.45" y="372.70" width="34.65" height="19.11" fill="#848484"/>
<rect x="776.45" y="372.70" width="33.60" height="18.06" fill="#ffe770"/>
<rect x="812.45" y="372.70" width="76.85" height="19.11" fill="#848484"/>
<rect x="812.45" y="372.70" width="75.80" height="18.06" fill="#ffe770"/>
<rect x="890.65" y="372.70" width="53.45" height="19.11" fill="#848484"/>
<rect x="890.65" y="372.70" width="52.40" height="18.06" fill="#ffe770"/>
<rect x="2.40" y="393.16" width="96.40" height="19.12" fill="#848484"/>
<rect x="2.40" y="393.16" width="95.35" height="18.07" fill="#ffffff"/>
<rect x="100.15" y="393.16" width="42.15" height="19.12" fill="#848484"/>
<rect x="100.15" y="393.16" width="41.10" height="18.07" fill="#ffffff"/>
<rect x="143.65" y="393.16" width="42.15" height="19.12" fill="#848484"/>
<rect x="143.65" y="393.16" width="41.10" height="18.07" fill="#ffffff"/>
<rect x="187.15" y="393.16" width="47.35" height="19.12" fill="#848484"/>
<rect x="187.15" y="393.16" width="46.30" height="18.07" fill="#ffffff"/>
<rect x="235.85" y="393.16" width="43.55" height="19.12" fill="#848484"/>
<rect x="235.85" y="393.16" width="42.50" height="18.07" fill="#ffffff"/>
<rect x="280.75" y="393.16" width="38.25" height="19.12" fill="#848484"/>
<rect x="280.75" y="393.16" width="37.20" height="18.07" fill="#ffffff"/>
<rect x="320.35" y="393.16" width="42.25" height="19.12" fill="#848484"/>
<rect x="320.35" y="393.16" width="41.20" height="18.07" fill="#ffffff"/>
<rect x="363.95" y="393.16" width="38.85" height="19.12" fill="#848484"/>
<rect x="363.95" y="393.16" width="37.80" height="18.07" fill="#ffffff"/>
<rect x="404.15" y="393.16" width="39.85" height="19.12" fill="#848484"/>
<rect x="404.15" y="393.16" width="38.80" height="18.07" fill="#ffffff"/>
<rect x="445.35" y="393.16" width="43.95" height="19.12" fill="#848484"/>
<rect x="445.35" y="393.16" width="42.90" height="18.07" fill="#ffffff"/>
<rect x="490.65" y="393.16" width="45.85" height="19.12" fill="#848484"/>
<rect x="490.65" y="393.16" width="44.80" height="18.07" fill="#ffffff"/>
<rect x="537.85" y="393.16" width="48.65" height="19.12" fill="#848484"/>
<rect x="537.85" y="393.16" width="47.60" height="18.07" fill="#ffffff"/>
<rect x="587.85" y="393.16" width="48.25" height="19.12" fill="#848484"/>
<rect x="587.85" y="393.16" width="47.20" height="18.07" fill="#ffffff"/>
<rect x="637.45" y="393.16" width="48.65" height="19.12" fill="#848484"/>
<rect x="637.45" y="393.16" width="47.60" height="18.07" fill="#ffffff"/>
<rect x="687.45" y="393.16" width="33.35" height="19.12" fill="#848484"/>
<rect x="687.45" y="393.16" width="32.30" height="18.07" fill="#ffffff"/>
<rect x="722.15" y="393.16" width="52.95" height="19.12" fill="#848484"/>
<rect x="722.15" y="393.16" width="51.90" height="18.07" fill="#ffffff"/>
<rect x="776.45" y="393.16" width="34.65" height="19.12" fill="#848484"/>
<rect x="776.45" y="393.16" width="33.60" height="18.07" fill="#ffffff"/>
<rect x="812.45" y="393.16" width="76.85" height="19.12" fill="#848484"/>
<rect x="812.45" y="393.16" width="75.80" height="18.07" fill="#ffffff"/>
<rect x="890.65" y="393.16" width="53.45" height="19.12" fill="#848484"/>
<rect x="890.65" y="393.16" width="52.40" height="18.07" fill="#ffffff"/>
<rect x="2.40" y="413.63" width="96.40" height="19.12" fill="#848484"/>
<rect x="2.40" y="413.63" width="95.35" height="18.07" fill="#ffe770"/>
<rect x="100.15" y="413.63" width="42.15" height="19.12" fill="#848484"/>
<rect x="100.15" y="413.63" width="41.10" height="18.07" fill="#ffe770"/>
<rect x="143.65" y="413.63" width="42.15" height="19.12" fill="#848484"/>
<rect x="143.65" y="413.63" width="41.10" height="18.07" fill="#ffe770"/>
<rect x="187.15" y="413.63" width="47.35" height="19.12" fill="#848484"/>
<rect x="187.15" y="413.63" width="46.30" height="18.07" fill="#ffe770"/>
<rect x="235.85" y="413.63" width="43.55" height="19.12" fill="#848484"/>
<rect x="235.85" y="413.63" width="42.50" height="18.07" fill="#ffe770"/>
<rect x="280.75" y="413.63" width="38.25" height="19.12" fill="#848484"/>
<rect x="280.75" y="413.63" width="37.20" height="18.07" fill="#ffe770"/>
<rect x="320.35" y="413.63" width="42.25" height="19.12" fill="#848484"/>
<rect x="320.35" y="413.63" width="41.20" height="18.07" fill="#ffe770"/>
<rect x="363.95" y="413.63" width="38.85" height="19.12" fill="#848484"/>
<rect x="363.95" y="413.63" width="37.80" height="18.07" fill="#ffe770"/>
<rect x="404.15" y="413.63" width="39.85" height="19.12" fill="#848484"/>
<rect x="404.15" y="413.63" width="38.80" height="18.07" fill="#ffe770"/>
<rect x="445.35" y="413.63" width="43.95" height="19.12" fill="#848484"/>
<rect x="445.35" y="413.63" width="42.90" height="18.07" fill="#ffe770"/>
<rect x="490.65" y="413.63" width="45.85" height="19.12" fill="#848484"/>
<rect x="490.65" y="413.63" width="44.80" height="18.07" fill="#ffe770"/>
<rect x="537.85" y="413.63" width="48.65" height="19.12" fill="#848484"/>
<rect x="537.85" y="413.63" width="47.60" height="18.07" fill="#ffe770"/>
<rect x="587.85" y="413.63" width="48.25" height="19.12" fill="#848484"/>
<rect x="587.85" y="413.63" width="47.20" height="18.07" fill="#ffe770"/>
<rect x="637.45" y="413.63" width="48.65" height="19.12" fill="#848484"/>
<rect x="637.45" y="413.63" width="47.60" height="18.07" fill="#ffe770"/>
<rect x="687.45" y="413.63" width="33.35" height="19.12" fill="#848484"/>
<rect x="687.45" y="413.63" width="32.30" height="18.07" fill="#ffe770"/>
<rect x="722.15" y="413.63" width="52.95" height="19.12" fill="#848484"/>
<rect x="722.15" y="413.63" width="51.90" height="18.07" fill="#ffe770"/>
<rect x="776.45" y="413.63" width="34.65" height="19.12" fill="#848484"/>
<rect x="776.45" y="413.63" width="33.60" height="18.07" fill="#ffe770"/>
<rect x="812.45" y="413.63" width="76.85" height="19.12" fill="#848484"/>
<rect x="812.45" y="413.63" width="75.80" height="18.07" fill="#ffe770"/>
<rect x="890.65" y="413.63" width="53.45" height="19.12" fill="#848484"/>
<rect x="890.65" y="413.63" width="52.40" height="18.07" fill="#ffe770"/>
<rect x="2.40" y="434.10" width="96.40" height="19.11" fill="#848484"/>
<rect x="2.40" y="434.10" width="95.35" height="18.06" fill="#ffffff"/>
<rect x="100.15" y="434.10" width="42.15" height="19.11" fill="#848484"/>
<rect x="100.15" y="434.10" width="41.10" height="18.06" fill="#ffffff"/>
<rect x="143.65" y="434.10" width="42.15" height="19.11" fill="#848484"/>
<rect x="143.65" y="434.10" width="41.10" height="18.06" fill="#ffffff"/>
<rect x="187.15" y="434.10" width="47.35" height="19.11" fill="#848484"/>
<rect x="187.15" y="434.10" width="46.30" height="18.06" fill="#ffffff"/>
<rect x="235.85" y="434.10" width="43.55" height="19.11" fill="#848484"/>
<rect x="235.85" y="434.10" width="42.50" height="18.06" fill="#ffffff"/>
<rect x="280.75" y="434.10" width="38.25" height="19.11" fill="#848484"/>
<rect x="280.75" y="434.10" width="37.20" height="18.06" fill="#ffffff"/>
<rect x="320.35" y="434.10" width="42.25" height="19.11" fill="#848484"/>
<rect x="320.35" y="434.10" width="41.20" height="18.06" fill="#ffffff"/>
<rect x="363.95" y="434.10" width="38.85" height="19.11" fill="#848484"/>
<rect x="363.95" y="434.10" width="37.80" height="18.06" fill="#ffffff"/>
<rect x="404.15" y="434.10" width="39.85" height="19.11" fill="#848484"/>
<rect x="404.15" y="434.10" width="38.80" height="18.06" fill="#ffffff"/>
<rect x="445.35" y="434.10" width="43.95" height="19.11" fill="#848484"/>
<rect x="445.35" y="434.10" width="42.90" height="18.06" fill="#ffffff"/>
<rect x="490.65" y="434.10" width="45.85" height="19.11" fill="#848484"/>
<rect x="490.65" y="434.10" width="44.80" height="18.06" fill="#ffffff"/>
<rect x="537.85" y="434.10" width="48.65" height="19.11" fill="#848484"/>
<rect x="537.85" y="434.10" width="47.60" height="18.06" fill="#ffffff"/>
<rect x="587.85" y="434.10" width="48.25" height="19.11" fill="#848484"/>
<rect x="587.85" y="434.10" width="47.20" height="18.06" fill="#ffffff"/>
<rect x="637.45" y="434.10" width="48.65" height="19.11" fill="#848484"/>
<rect x="637.45" y="434.10" width="47.60" height="18.06" fill="#ffffff"/>
<rect x="687.45" y="434.10" width="33.35" height="19.11" fill="#848484"/>
<rect x="687.45" y="434.10" width="32.30" height="18.06" fill="#ffffff"/>
<rect x="722.15" y="434.10" width="52.95" height="19.11" fill="#848484"/>
<rect x="722.15" y="434.10" width="51.90" height="18.06" fill="#ffffff"/>
<rect x="776.45" y="434.10" width="34.65" height="19.11" fill="#848484"/>
<rect x="776.45" y="434.10" width="33.60" height="18.06" fill="#ffffff"/>
<rect x="812.45" y="434.10" width="76.85" height="19.11" fill="#848484"/>
<rect x="812.45" y="434.10" width="75.80" height="18.06" fill="#ffffff"/>
<rect x="890.65" y="434.10" width="53.45" height="19.11" fill="#848484"/>
<rect x="890.65" y="434.10" width="52.40" height="18.06" fill="#ffffff"/>
<rect x="2.40" y="454.56" width="96.40" height="19.12" fill="#848484"/>
<rect x="2.40" y="454.56" width="95.35" height="18.07" fill="#ffe770"/>
<rect x="100.15" y="454.56" width="42.15" height="19.12" fill="#848484"/>
<rect x="100.15" y="454.56" width="41.10" height="18.07" fill="#ffe770"/>
<rect x="143.65" y="454.56" width="42.15" height="19.12" fill="#848484"/>
<rect x="143.65" y="454.56" width="41.10" height="18.07" fill="#ffe770"/>
<rect x="187.15" y="454.56" width="47.35" height="19.12" fill="#848484"/>
<rect x="187.15" y="454.56" width="46.30" height="18.07" fill="#ffe770"/>
<rect x="235.85" y="454.56" width="43.55" height="19.12" fill="#848484"/>
<rect x="235.85" y="454.56" width="42.50" height="18.07" fill="#ffe770"/>
<rect x="280.75" y="454.56" width="38.25" height="19.12" fill="#848484"/>
<rect x="280.75" y="454.56" width="37.20" height="18.07" fill="#ffe770"/>
<rect x="320.35" y="454.56" width="42.25" height="19.12" fill="#848484"/>
<rect x="320.35" y="454.56" width="41.20" height="18.07" fill="#ffe770"/>
<rect x="363.95" y="454.56" width="38.85" height="19.12" fill="#848484"/>
<rect x="363.95" y="454.56" width="37.80" height="18.07" fill="#ffe770"/>
<rect x="404.15" y="454.56" width="39.85" height="19.12" fill="#848484"/>
<rect x="404.15" y="454.56" width="38.80" height="18.07" fill="#ffe770"/>
<rect x="445.35" y="454.56" width="43.95" height="19.12" fill="#848484"/>
<rect x="445.35" y="454.56" width="42.90" height="18.07" fill="#ffe770"/>
<rect x="490.65" y="454.56" width="45.85" height="19.12" fill="#848484"/>
<rect x="490.65" y="454.56" width="44.80" height="18.07" fill="#ffe770"/>
<rect x="537.85" y="454.56" width="48.65" height="19.12" fill="#848484"/>
<rect x="537.85" y="454.56" width="47.60" height="18.07" fill="#ffe770"/>
<rect x="587.85" y="454.56" width="48.25" height="19.12" fill="#848484"/>
<rect x="587.85" y="454.56" width="47.20" height="18.07" fill="#ffe770"/>
<rect x="637.45" y="454.56" width="48.65" height="19.12" fill="#848484"/>
<rect x="637.45" y="454.56" width="47.60" height="18.07" fill="#ffe770"/>
<rect x="687.45" y="454.56" width="33.35" height="19.12" fill="#848484"/>
<rect x="687.45" y="454.56" width="32.30" height="18.07" fill="#ffe770"/>
<rect x="722.15" y="454.56" width="52.95" height="19.12" fill="#848484"/>
<rect x="722.15" y="454.56" width="51.90" height="18.07" fill="#ffe770"/>
<rect x="776.45" y="454.56" width="34.65" height="19.12" fill="#848484"/>
<rect x="776.45" y="454.56" width="33.60" height="18.07" fill="#ffe770"/>
<rect x="812.45" y="454.56" width="76.85" height="19.12" fill="#848484"/>
<rect x="812.45" y="454.56" width="75.80" height="18.07" fill="#ffe770"/>
<rect x="890.65" y="454.56" width="53.45" height="19.12" fill="#848484"/>
<rect x="890.65" y="454.56" width="52.40" height="18.07" fill="#ffe770"/>
<rect x="2.40" y="475.02" width="96.40" height="19.12" fill="#848484"/>
<rect x="2.40" y="475.02" width="95.35" height="18.07" fill="#ffffff"/>
<rect x="100.15" y="475.02" width="42.15" height="19.12" fill="#848484"/>
<rect x="100.15" y="475.02" width="41.10" height="18.07" fill="#ffffff"/>
<rect x="143.65" y="475.02" width="42.15" height="19.12" fill="#848484"/>
<rect x="143.65" y="475.02" width="41.10" height="18.07" fill="#ffffff"/>
<rect x="187.15" y="475.02" width="47.35" height="19.12" fill="#848484"/>
<rect x="187.15" y="475.02" width="46.30" height="18.07" fill="#ffffff"/>
<rect x="235.85" y="475.02" width="43.55" height="19.12" fill="#848484"/>
<rect x="235.85" y="475.02" width="42.50" height="18.07" fill="#ffffff"/>
<rect x="280.75" y="475.02" width="38.25" height="19.12" fill="#848484"/>
<rect x="280.75" y="475.02" width="37.20" height="18.07" fill="#ffffff"/>
<rect x="320.35" y="475.02" width="42.25" height="19.12" fill="#848484"/>
<rect x="320.35" y="475.02" width="41.20" height="18.07" fill="#ffffff"/>
<rect x="363.95" y="475.02" width="38.85" height="19.12" fill="#848484"/>
<rect x="363.95" y="475.02" width="37.80" height="18.07" fill="#ffffff"/>
<rect x="404.15" y="475.02" width="39.85" height="19.12" fill="#848484"/>
<rect x="404.15" y="475.02" width="38.80" height="18.07" fill="#ffffff"/>
<rect x="445.35" y="475.02" width="43.95" height="19.12" fill="#848484"/>
<rect x="445.35" y="475.02" width="42.90" height="18.07" fill="#ffffff"/>
<rect x="490.65" y="475.02" width="45.85" height="19.12" fill="#848484"/>
<rect x="490.65" y="475.02" width="44.80" height="18.07" fill="#ffffff"/>
<rect x="537.85" y="475.02" width="48.65" height="19.12" fill="#848484"/>
<rect x="537.85" y="475.02" width="47.60" height="18.07" fill="#ffffff"/>
<rect x="587.85" y="475.02" width="48.25" height="19.12" fill="#848484"/>
<rect x="587.85" y="475.02" width="47.20" height="18.07" fill="#ffffff"/>
<rect x="637.45" y="475.02" width="48.65" height="19.12" fill="#848484"/>
<rect x="637.45" y="475.02" width="47.60" height="18.07" fill="#ffffff"/>
<rect x="687.45" y="475.02" width="33.35" height="19.12" fill="#848484"/>
<rect x="687.45" y="475.02" width="32.30" height="18.07" fill="#ffffff"/>
<rect x="722.15" y="475.02" width="52.95" height="19.12" fill="#848484"/>
<rect x="722.15" y="475.02" width="51.90" height="18.07" fill="#ffffff"/>
<rect x="776.45" y="475.02" width="34.65" height="19.12" fill="#848484"/>
<rect x="776.45" y="475.02" width="33.60" height="18.07" fill="#ffffff"/>
<rect x="812.45" y="475.02" width="76.85" height="19.12" fill="#848484"/>
<rect x="812.45" y="475.02" width="75.80" height="18.07" fill="#ffffff"/>
<rect x="890.65" y="475.02" width="53.45" height="19.12" fill="#848484"/>
<rect x="890.65" y="475.02" width="52.40" height="18.07" fill="#ffffff"/>
<rect x="2.40" y="495.49" width="96.40" height="19.11" fill="#848484"/>
<rect x="2.40" y="495.49" width="95.35" height="18.06" fill="#ffe770"/>
<rect x="100.15" y="495.49" width="42.15" height="19.11" fill="#848484"/>
<rect x="100.15" y="495.49" width="41.10" height="18.06" fill="#ffe770"/>
<rect x="143.65" y="495.49" width="42.15" height="19.11" fill="#848484"/>
<rect x="143.65" y="495.49" width="41.10" height="18.06" fill="#ffe770"/>
<rect x="187.15" y="495.49" width="47.35" height="19.11" fill="#848484"/>
<rect x="187.15" y="495.49" width="46.30" height="18.06" fill="#ffe770"/>
<rect x="235.85" y="495.49" width="43.55" height="19.11" fill="#848484"/>
<rect x="235.85" y="495.49" width="42.50" height="18.06" fill="#ffe770"/>
<rect x="280.75" y="495.49" width="38.25" height="19.11" fill="#848484"/>
<rect x="280.75" y="495.49" width="37.20" height="18.06" fill="#ffe770"/>
<rect x="320.35" y="495.49" width="42.25" height="19.11" fill="#848484"/>
<rect x="320.35" y="495.49" width="41.20" height="18.06" fill="#ffe770"/>
<rect x="363.95" y="495.49" width="38.85" height="19.11" fill="#848484"/>
<rect x="363.95" y="495.49" width="37.80" height="18.06" fill="#ffe770"/>
<rect x="404.15" y="495.49" width="39.85" height="19.11" fill="#848484"/>
<rect x="404.15" y="495.49" width="38.80" height="18.06" fill="#ffe770"/>
<rect x="445.35" y="495.49" width="43.95" height="19.11" fill="#848484"/>
<rect x="445.35" y="495.49" width="42.90" height="18.06" fill="#ffe770"/>
<rect x="490.65" y="495.49" width="45.85" height="19.11" fill="#848484"/>
<rect x="490.65" y="495.49" width="44.80" height="18.06" fill="#ffe770"/>
<rect x="537.85" y="495.49" width="48.65" height="19.11" fill="#848484"/>
<rect x="537.85" y="495.49" width="47.60" height="18.06" fill="#ffe770"/>
<rect x="587.85" y="495.49" width="48.25" height="19.11" fill="#848484"/>
<rect x="587.85" y="495.49" width="47.20" height="18.06" fill="#ffe770"/>
<rect x="637.45" y="495.49" width="48.65" height="19.11" fill="#848484"/>
<rect x="637.45" y="495.49" width="47.60" height="18.06" fill="#ffe770"/>
<rect x="687.45" y="495.49" width="33.35" height="19.11" fill="#848484"/>
<rect x="687.45" y="495.49" width="32.30" height="18.06" fill="#ffe770"/>
<rect x="722.15" y="495.49" width="52.95" height="19.11" fill="#848484"/>
<rect x="722.15" y="495.49" width="51.90" height="18.06" fill="#ffe770"/>
<rect x="776.45" y="495.49" width="34.65" height="19.11" fill="#848484"/>
<rect x="776.45" y="495.49" width="33.60" height="18.06" fill="#ffe770"/>
<rect x="812.45" y="495.49" width="76.85" height="19.11" fill="#848484"/>
<rect x="812.45" y="495.49" width="75.80" height="18.06" fill="#ffe770"/>
<rect x="890.65" y="495.49" width="53.45" height="19.11" fill="#848484"/>
<rect x="890.65" y="495.49" width="52.40" height="18.06" fill="#ffe770"/>
<rect x="83.4" y="82.5" width="192.60" height="28.2" fill="#ffffff" stroke="#dbeeff" stroke-width="1.1"/>
<rect x="381.6" y="82.5" width="192.60" height="28.2" fill="#ffffff" stroke="#dbeeff" stroke-width="1.1"/>
<rect x="648.0" y="85.9" width="102.00" height="21.90" fill="#dcdcdc"/>
<polygon points="750.0,85.9 750.0,107.8 648.0,107.8 650.5,105.3 747.5,105.3 747.5,88.4" fill="#868686"/>
<rect x="650.5" y="88.4" width="97.00" height="16.90" fill="#9b9b9b"/>
<rect x="804.0" y="85.9" width="129.60" height="21.90" fill="#dcdcdc"/>
<polygon points="933.6,85.9 933.6,107.8 804.0,107.8 806.5,105.3 931.1,105.3 931.1,88.4" fill="#868686"/>
<rect x="806.5" y="88.4" width="124.60" height="16.90" fill="#9b9b9b"/></svg>
<svg class="abs" style="left:5.6px;top:-2.2px" width="13" height="13" viewBox="0 0 13 13"><g fill="#e8440f"><circle cx="6.5" cy="6.5" r="4.7"/><circle cx="11.25" cy="6.50" r="0.95"/><circle cx="10.34" cy="9.29" r="0.95"/><circle cx="7.97" cy="11.02" r="0.95"/><circle cx="5.03" cy="11.02" r="0.95"/><circle cx="2.66" cy="9.29" r="0.95"/><circle cx="1.75" cy="6.50" r="0.95"/><circle cx="2.66" cy="3.71" r="0.95"/><circle cx="5.03" cy="1.98" r="0.95"/><circle cx="7.97" cy="1.98" r="0.95"/><circle cx="10.34" cy="3.71" r="0.95"/></g><path d="M4.5 3.9 L9.3 6.7 L4.5 9.6 Z" fill="#f3efec"/></svg>
<div class="abs title">Consulta Dados da Estação Automática: Monte Verde (MG)</div>
<div class="abs fechar">Fechar</div>
<div class="abs obs">Observação: Estes são dados brutos e sem consistência com o único objetivo de deixá-los disponíveis de forma imediata.</div>
<div class="abs lbl" style="left:2.3px">Data Inicial:</div>
<div class="abs inp" style="left:82.2px;width:194.4px">29/05/2020</div>
<div class="abs lbl" style="left:308px">Data Final:</div>
<div class="abs inp" style="left:380.6px;width:194.4px">29/05/2020</div>
<div class="abs btn" style="left:648px;width:102px">Nova Pesquisa</div>
<div class="abs btn" style="left:804px;width:130px;letter-spacing:0.13px">Download de Dados</div>
<div class="c h h1" style="left:2.40px;top:119.85px;width:95.35px;height:17.90px;line-height:17.90px"><span>Data</span></div>
<div class="c h h1" style="left:100.15px;top:119.85px;width:41.10px;height:17.90px;line-height:17.90px"><span>Hora</span></div>
<div class="c h h1" style="left:143.65px;top:119.85px;width:134.70px;height:17.90px;line-height:17.90px"><span>Temperatura (°C)</span></div>
<div class="c h h1" style="left:280.75px;top:119.85px;width:121.00px;height:17.90px;line-height:17.90px"><span>Umidade (%)</span></div>
<div class="c h h1" style="left:404.15px;top:119.85px;width:131.30px;height:17.90px;line-height:17.90px"><span>Pto. Orvalho (°C)</span></div>
<div class="c h h1" style="left:537.85px;top:119.85px;width:147.20px;height:17.90px;line-height:17.90px"><span>Pressão (hPa)</span></div>
<div class="c h h1" style="left:687.45px;top:119.85px;width:122.60px;height:17.90px;line-height:17.90px"><span><i style="font-style:normal;letter-spacing:0.34px;margin-right:-0.34px">Vento (m/s)</i></span></div>
<div class="c h h1" style="left:812.45px;top:119.85px;width:75.80px;height:17.90px;line-height:17.90px"><span>Radiação</span></div>
<div class="c h h1" style="left:890.65px;top:119.85px;width:52.40px;height:17.90px;line-height:17.90px"><span>Chuva</span></div>
<div class="c h h2" style="left:100.15px;top:140.15px;width:41.10px;height:25.50px;line-height:25.50px"><span>UTC</span></div>
<div class="c h h2" style="left:143.65px;top:140.15px;width:41.10px;height:25.50px;line-height:25.50px"><span>Inst.</span></div>
<div class="c h h2" style="left:187.15px;top:140.15px;width:46.30px;height:25.50px;line-height:25.50px"><span>Máx.</span></div>
<div class="c h h2" style="left:235.85px;top:140.15px;width:42.50px;height:25.50px;line-height:25.50px"><span>Mín.</span></div>
<div class="c h h2" style="left:280.75px;top:140.15px;width:37.20px;height:25.50px;line-height:25.50px"><span>Inst.</span></div>
<div class="c h h2" style="left:320.35px;top:140.15px;width:41.20px;height:25.50px;line-height:25.50px"><span>Máx.</span></div>
<div class="c h h2" style="left:363.95px;top:140.15px;width:37.80px;height:25.50px;line-height:25.50px"><span>Mín.</span></div>
<div class="c h h2" style="left:404.15px;top:140.15px;width:38.80px;height:25.50px;line-height:25.50px"><span>Inst.</span></div>
<div class="c h h2" style="left:445.35px;top:140.15px;width:42.90px;height:25.50px;line-height:25.50px"><span>Máx.</span></div>
<div class="c h h2" style="left:490.65px;top:140.15px;width:44.80px;height:25.50px;line-height:25.50px"><span>Mín.</span></div>
<div class="c h h2" style="left:537.85px;top:140.15px;width:47.60px;height:25.50px;line-height:25.50px"><span>Inst.</span></div>
<div class="c h h2" style="left:587.85px;top:140.15px;width:47.20px;height:25.50px;line-height:25.50px"><span>Máx.</span></div>
<div class="c h h2" style="left:637.45px;top:140.15px;width:47.60px;height:25.50px;line-height:25.50px"><span>Mín.</span></div>
<div class="c h h2" style="left:687.45px;top:140.15px;width:32.30px;height:25.50px;line-height:25.50px"><span>Vel.</span></div>
<div class="c h h2" style="left:722.15px;top:140.15px;width:51.90px;height:25.50px;line-height:25.50px"><span>Dir. (°)</span></div>
<div class="c h h2" style="left:776.45px;top:140.15px;width:33.60px;height:25.50px;line-height:25.50px"><span>Raj.</span></div>
<div class="c h h2" style="left:812.45px;top:140.15px;width:75.80px;height:25.50px;line-height:25.50px"><span><i style="font-style:normal;letter-spacing:0.85px;margin-right:-0.85px">(kJ/m²)</i></span></div>
<div class="c h h2" style="left:890.65px;top:140.15px;width:52.40px;height:25.50px;line-height:25.50px"><span><i style="font-style:normal;letter-spacing:0.95px;margin-right:-0.95px">(mm)</i></span></div>
<div class="c d ctr dt" style="left:2.40px;top:168px;width:95.35px;height:20px;line-height:20px"><span>29/05/2020</span></div>
<div class="c d ctr" style="left:100.15px;top:168px;width:41.10px;height:20px;line-height:20px"><span>00</span></div>
<div class="c d rt" style="left:143.65px;top:168px;width:41.10px;height:20px;line-height:20px"><span>5.4</span></div>
<div class="c d rt" style="left:187.15px;top:168px;width:46.30px;height:20px;line-height:20px"><span>6.5</span></div>
<div class="c d rt" style="left:235.85px;top:168px;width:42.50px;height:20px;line-height:20px"><span>4.8</span></div>
<div class="c d rt" style="left:280.75px;top:168px;width:37.20px;height:20px;line-height:20px"><span>77</span></div>
<div class="c d rt" style="left:320.35px;top:168px;width:41.20px;height:20px;line-height:20px"><span>83</span></div>
<div class="c d rt" style="left:363.95px;top:168px;width:37.80px;height:20px;line-height:20px"><span>77</span></div>
<div class="c d rt" style="left:404.15px;top:168px;width:38.80px;height:20px;line-height:20px"><span>1.8</span></div>
<div class="c d rt" style="left:445.35px;top:168px;width:42.90px;height:20px;line-height:20px"><span>3.0</span></div>
<div class="c d rt" style="left:490.65px;top:168px;width:44.80px;height:20px;line-height:20px"><span>1.7</span></div>
<div class="c d rt" style="left:537.85px;top:168px;width:47.60px;height:20px;line-height:20px"><span>851.7</span></div>
<div class="c d rt" style="left:587.85px;top:168px;width:47.20px;height:20px;line-height:20px"><span>851.8</span></div>
<div class="c d rt" style="left:637.45px;top:168px;width:47.60px;height:20px;line-height:20px"><span>851.6</span></div>
<div class="c d rt" style="left:687.45px;top:168px;width:32.30px;height:20px;line-height:20px"><span>1.3</span></div>
<div class="c d rt" style="left:722.15px;top:168px;width:51.90px;height:20px;line-height:20px"><span>292</span></div>
<div class="c d rt" style="left:776.45px;top:168px;width:33.60px;height:20px;line-height:20px"><span>3.7</span></div>
<div class="c d rt" style="left:812.45px;top:168px;width:75.80px;height:20px;line-height:20px"><span>-3.54</span></div>
<div class="c d rt" style="left:890.65px;top:168px;width:52.40px;height:20px;line-height:20px"><span>0.0</span></div>
<div class="c d ctr dt" style="left:2.40px;top:188px;width:95.35px;height:20px;line-height:20px"><span>29/05/2020</span></div>
<div class="c d ctr" style="left:100.15px;top:188px;width:41.10px;height:20px;line-height:20px"><span>01</span></div>
<div class="c d rt" style="left:143.65px;top:188px;width:41.10px;height:20px;line-height:20px"><span>2.9</span></div>
<div class="c d rt" style="left:187.15px;top:188px;width:46.30px;height:20px;line-height:20px"><span>5.9</span></div>
<div class="c d rt" style="left:235.85px;top:188px;width:42.50px;height:20px;line-height:20px"><span>2.8</span></div>
<div class="c d rt" style="left:280.75px;top:188px;width:37.20px;height:20px;line-height:20px"><span>85</span></div>
<div class="c d rt" style="left:320.35px;top:188px;width:41.20px;height:20px;line-height:20px"><span>85</span></div>
<div class="c d rt" style="left:363.95px;top:188px;width:37.80px;height:20px;line-height:20px"><span>76</span></div>
<div class="c d rt" style="left:404.15px;top:188px;width:38.80px;height:20px;line-height:20px"><span>0.7</span></div>
<div class="c d rt" style="left:445.35px;top:188px;width:42.90px;height:20px;line-height:20px"><span>2.2</span></div>
<div class="c d rt" style="left:490.65px;top:188px;width:44.80px;height:20px;line-height:20px"><span>0.5</span></div>
<div class="c d rt" style="left:537.85px;top:188px;width:47.60px;height:20px;line-height:20px"><span>851.8</span></div>
<div class="c d rt" style="left:587.85px;top:188px;width:47.20px;height:20px;line-height:20px"><span>851.9</span></div>
<div class="c d rt" style="left:637.45px;top:188px;width:47.60px;height:20px;line-height:20px"><span>851.6</span></div>
<div class="c d rt" style="left:687.45px;top:188px;width:32.30px;height:20px;line-height:20px"><span>0.2</span></div>
<div class="c d rt" style="left:722.15px;top:188px;width:51.90px;height:20px;line-height:20px"><span>296</span></div>
<div class="c d rt" style="left:776.45px;top:188px;width:33.60px;height:20px;line-height:20px"><span>2.6</span></div>
<div class="c d rt" style="left:812.45px;top:188px;width:75.80px;height:20px;line-height:20px"><span>-3.54</span></div>
<div class="c d rt" style="left:890.65px;top:188px;width:52.40px;height:20px;line-height:20px"><span>0.0</span></div>
<div class="c d ctr dt" style="left:2.40px;top:209px;width:95.35px;height:20px;line-height:20px"><span>29/05/2020</span></div>
<div class="c d ctr" style="left:100.15px;top:209px;width:41.10px;height:20px;line-height:20px"><span>02</span></div>
<div class="c d rt" style="left:143.65px;top:209px;width:41.10px;height:20px;line-height:20px"><span>2.2</span></div>
<div class="c d rt" style="left:187.15px;top:209px;width:46.30px;height:20px;line-height:20px"><span>2.9</span></div>
<div class="c d rt" style="left:235.85px;top:209px;width:42.50px;height:20px;line-height:20px"><span>2.0</span></div>
<div class="c d rt" style="left:280.75px;top:209px;width:37.20px;height:20px;line-height:20px"><span>88</span></div>
<div class="c d rt" style="left:320.35px;top:209px;width:41.20px;height:20px;line-height:20px"><span>88</span></div>
<div class="c d rt" style="left:363.95px;top:209px;width:37.80px;height:20px;line-height:20px"><span>85</span></div>
<div class="c d rt" style="left:404.15px;top:209px;width:38.80px;height:20px;line-height:20px"><span>0.4</span></div>
<div class="c d rt" style="left:445.35px;top:209px;width:42.90px;height:20px;line-height:20px"><span>0.9</span></div>
<div class="c d rt" style="left:490.65px;top:209px;width:44.80px;height:20px;line-height:20px"><span>0.1</span></div>
<div class="c d rt" style="left:537.85px;top:209px;width:47.60px;height:20px;line-height:20px"><span>851.6</span></div>
<div class="c d rt" style="left:587.85px;top:209px;width:47.20px;height:20px;line-height:20px"><span>851.8</span></div>
<div class="c d rt" style="left:637.45px;top:209px;width:47.60px;height:20px;line-height:20px"><span>851.6</span></div>
<div class="c d rt" style="left:687.45px;top:209px;width:32.30px;height:20px;line-height:20px"><span>1.0</span></div>
<div class="c d rt" style="left:722.15px;top:209px;width:51.90px;height:20px;line-height:20px"><span>307</span></div>
<div class="c d rt" style="left:776.45px;top:209px;width:33.60px;height:20px;line-height:20px"><span>2.3</span></div>
<div class="c d rt" style="left:812.45px;top:209px;width:75.80px;height:20px;line-height:20px"><span>-3.54</span></div>
<div class="c d rt" style="left:890.65px;top:209px;width:52.40px;height:20px;line-height:20px"><span>0.0</span></div>
<div class="c d ctr dt" style="left:2.40px;top:229px;width:95.35px;height:20px;line-height:20px"><span>29/05/2020</span></div>
<div class="c d ctr" style="left:100.15px;top:229px;width:41.10px;height:20px;line-height:20px"><span>03</span></div>
<div class="c d rt" style="left:143.65px;top:229px;width:41.10px;height:20px;line-height:20px"><span>1.5</span></div>
<div class="c d rt" style="left:187.15px;top:229px;width:46.30px;height:20px;line-height:20px"><span>2.2</span></div>
<div class="c d rt" style="left:235.85px;top:229px;width:42.50px;height:20px;line-height:20px"><span>1.5</span></div>
<div class="c d rt" style="left:280.75px;top:229px;width:37.20px;height:20px;line-height:20px"><span>88</span></div>
<div class="c d rt" style="left:320.35px;top:229px;width:41.20px;height:20px;line-height:20px"><span>88</span></div>
<div class="c d rt" style="left:363.95px;top:229px;width:37.80px;height:20px;line-height:20px"><span>88</span></div>
<div class="c d rt" style="left:404.15px;top:229px;width:38.80px;height:20px;line-height:20px"><span>-0.2</span></div>
<div class="c d rt" style="left:445.35px;top:229px;width:42.90px;height:20px;line-height:20px"><span>0.3</span></div>
<div class="c d rt" style="left:490.65px;top:229px;width:44.80px;height:20px;line-height:20px"><span>-0.3</span></div>
<div class="c d rt" style="left:537.85px;top:229px;width:47.60px;height:20px;line-height:20px"><span>851.2</span></div>
<div class="c d rt" style="left:587.85px;top:229px;width:47.20px;height:20px;line-height:20px"><span>851.6</span></div>
<div class="c d rt" style="left:637.45px;top:229px;width:47.60px;height:20px;line-height:20px"><span>851.2</span></div>
<div class="c d rt" style="left:687.45px;top:229px;width:32.30px;height:20px;line-height:20px"><span>0.9</span></div>
<div class="c d rt" style="left:722.15px;top:229px;width:51.90px;height:20px;line-height:20px"><span>292</span></div>
<div class="c d rt" style="left:776.45px;top:229px;width:33.60px;height:20px;line-height:20px"><span>2.3</span></div>
<div class="c d rt" style="left:812.45px;top:229px;width:75.80px;height:20px;line-height:20px"><span>-3.54</span></div>
<div class="c d rt" style="left:890.65px;top:229px;width:52.40px;height:20px;line-height:20px"><span>0.0</span></div>
<div class="c d ctr dt" style="left:2.40px;top:250px;width:95.35px;height:20px;line-height:20px"><span>29/05/2020</span></div>
<div class="c d ctr" style="left:100.15px;top:250px;width:41.10px;height:20px;line-height:20px"><span>04</span></div>
<div class="c d rt" style="left:143.65px;top:250px;width:41.10px;height:20px;line-height:20px"><span>2.4</span></div>
<div class="c d rt" style="left:187.15px;top:250px;width:46.30px;height:20px;line-height:20px"><span>2.4</span></div>
<div class="c d rt" style="left:235.85px;top:250px;width:42.50px;height:20px;line-height:20px"><span>1.1</span></div>
<div class="c d rt" style="left:280.75px;top:250px;width:37.20px;height:20px;line-height:20px"><span>89</span></div>
<div class="c d rt" style="left:320.35px;top:250px;width:41.20px;height:20px;line-height:20px"><span>89</span></div>
<div class="c d rt" style="left:363.95px;top:250px;width:37.80px;height:20px;line-height:20px"><span>88</span></div>
<div class="c d rt" style="left:404.15px;top:250px;width:38.80px;height:20px;line-height:20px"><span>0.8</span></div>
<div class="c d rt" style="left:445.35px;top:250px;width:42.90px;height:20px;line-height:20px"><span>0.8</span></div>
<div class="c d rt" style="left:490.65px;top:250px;width:44.80px;height:20px;line-height:20px"><span>-0.6</span></div>
<div class="c d rt" style="left:537.85px;top:250px;width:47.60px;height:20px;line-height:20px"><span>851.2</span></div>
<div class="c d rt" style="left:587.85px;top:250px;width:47.20px;height:20px;line-height:20px"><span>851.2</span></div>
<div class="c d rt" style="left:637.45px;top:250px;width:47.60px;height:20px;line-height:20px"><span>851.1</span></div>
<div class="c d rt" style="left:687.45px;top:250px;width:32.30px;height:20px;line-height:20px"><span>1.5</span></div>
<div class="c d rt" style="left:722.15px;top:250px;width:51.90px;height:20px;line-height:20px"><span>299</span></div>
<div class="c d rt" style="left:776.45px;top:250px;width:33.60px;height:20px;line-height:20px"><span>2.4</span></div>
<div class="c d rt" style="left:812.45px;top:250px;width:75.80px;height:20px;line-height:20px"><span>-3.54</span></div>
<div class="c d rt" style="left:890.65px;top:250px;width:52.40px;height:20px;line-height:20px"><span>0.0</span></div>
<div class="c d ctr dt" style="left:2.40px;top:270px;width:95.35px;height:20px;line-height:20px"><span>29/05/2020</span></div>
<div class="c d ctr" style="left:100.15px;top:270px;width:41.10px;height:20px;line-height:20px"><span>05</span></div>
<div class="c d rt" style="left:143.65px;top:270px;width:41.10px;height:20px;line-height:20px"><span>0.5</span></div>
<div class="c d rt" style="left:187.15px;top:270px;width:46.30px;height:20px;line-height:20px"><span>2.6</span></div>
<div class="c d rt" style="left:235.85px;top:270px;width:42.50px;height:20px;line-height:20px"><span>0.3</span></div>
<div class="c d rt" style="left:280.75px;top:270px;width:37.20px;height:20px;line-height:20px"><span>89</span></div>
<div class="c d rt" style="left:320.35px;top:270px;width:41.20px;height:20px;line-height:20px"><span>89</span></div>
<div class="c d rt" style="left:363.95px;top:270px;width:37.80px;height:20px;line-height:20px"><span>88</span></div>
<div class="c d rt" style="left:404.15px;top:270px;width:38.80px;height:20px;line-height:20px"><span>-1.2</span></div>
<div class="c d rt" style="left:445.35px;top:270px;width:42.90px;height:20px;line-height:20px"><span>1.0</span></div>
<div class="c d rt" style="left:490.65px;top:270px;width:44.80px;height:20px;line-height:20px"><span>-1.4</span></div>
<div class="c d rt" style="left:537.85px;top:270px;width:47.60px;height:20px;line-height:20px"><span>851.0</span></div>
<div class="c d rt" style="left:587.85px;top:270px;width:47.20px;height:20px;line-height:20px"><span>851.2</span></div>
<div class="c d rt" style="left:637.45px;top:270px;width:47.60px;height:20px;line-height:20px"><span>850.9</span></div>
<div class="c d rt" style="left:687.45px;top:270px;width:32.30px;height:20px;line-height:20px"><span>0.5</span></div>
<div class="c d rt" style="left:722.15px;top:270px;width:51.90px;height:20px;line-height:20px"><span>297</span></div>
<div class="c d rt" style="left:776.45px;top:270px;width:33.60px;height:20px;line-height:20px"><span>2.9</span></div>
<div class="c d rt" style="left:812.45px;top:270px;width:75.80px;height:20px;line-height:20px"><span>-3.54</span></div>
<div class="c d rt" style="left:890.65px;top:270px;width:52.40px;height:20px;line-height:20px"><span>0.0</span></div>
<div class="c d ctr dt" style="left:2.40px;top:291px;width:95.35px;height:20px;line-height:20px"><span>29/05/2020</span></div>
<div class="c d ctr" style="left:100.15px;top:291px;width:41.10px;height:20px;line-height:20px"><span>06</span></div>
<div class="c d rt" style="left:143.65px;top:291px;width:41.10px;height:20px;line-height:20px"><span>2.1</span></div>
<div class="c d rt" style="left:187.15px;top:291px;width:46.30px;height:20px;line-height:20px"><span>2.7</span></div>
<div class="c d rt" style="left:235.85px;top:291px;width:42.50px;height:20px;line-height:20px"><span>0.2</span></div>
<div class="c d rt" style="left:280.75px;top:291px;width:37.20px;height:20px;line-height:20px"><span>87</span></div>
<div class="c d rt" style="left:320.35px;top:291px;width:41.20px;height:20px;line-height:20px"><span>89</span></div>
<div class="c d rt" style="left:363.95px;top:291px;width:37.80px;height:20px;line-height:20px"><span>87</span></div>
<div class="c d rt" style="left:404.15px;top:291px;width:38.80px;height:20px;line-height:20px"><span>0.2</span></div>
<div class="c d rt" style="left:445.35px;top:291px;width:42.90px;height:20px;line-height:20px"><span>1.1</span></div>
<div class="c d rt" style="left:490.65px;top:291px;width:44.80px;height:20px;line-height:20px"><span>-1.4</span></div>
<div class="c d rt" style="left:537.85px;top:291px;width:47.60px;height:20px;line-height:20px"><span>851.3</span></div>
<div class="c d rt" style="left:587.85px;top:291px;width:47.20px;height:20px;line-height:20px"><span>851.3</span></div>
<div class="c d rt" style="left:637.45px;top:291px;width:47.60px;height:20px;line-height:20px"><span>851.0</span></div>
<div class="c d rt" style="left:687.45px;top:291px;width:32.30px;height:20px;line-height:20px"><span>1.6</span></div>
<div class="c d rt" style="left:722.15px;top:291px;width:51.90px;height:20px;line-height:20px"><span>290</span></div>
<div class="c d rt" style="left:776.45px;top:291px;width:33.60px;height:20px;line-height:20px"><span>3.5</span></div>
<div class="c d rt" style="left:812.45px;top:291px;width:75.80px;height:20px;line-height:20px"><span>-3.54</span></div>
<div class="c d rt" style="left:890.65px;top:291px;width:52.40px;height:20px;line-height:20px"><span>0.0</span></div>
<div class="c d ctr dt" style="left:2.40px;top:311px;width:95.35px;height:20px;line-height:20px"><span>29/05/2020</span></div>
<div class="c d ctr" style="left:100.15px;top:311px;width:41.10px;height:20px;line-height:20px"><span>07</span></div>
<div class="c d rt" style="left:143.65px;top:311px;width:41.10px;height:20px;line-height:20px"><span>2.1</span></div>
<div class="c d rt" style="left:187.15px;top:311px;width:46.30px;height:20px;line-height:20px"><span>2.5</span></div>
<div class="c d rt" style="left:235.85px;top:311px;width:42.50px;height:20px;line-height:20px"><span>0.2</span></div>
<div class="c d rt" style="left:280.75px;top:311px;width:37.20px;height:20px;line-height:20px"><span>85</span></div>
<div class="c d rt" style="left:320.35px;top:311px;width:41.20px;height:20px;line-height:20px"><span>87</span></div>
<div class="c d rt" style="left:363.95px;top:311px;width:37.80px;height:20px;line-height:20px"><span>83</span></div>
<div class="c d rt" style="left:404.15px;top:311px;width:38.80px;height:20px;line-height:20px"><span>-0.1</span></div>
<div class="c d rt" style="left:445.35px;top:311px;width:42.90px;height:20px;line-height:20px"><span>0.2</span></div>
<div class="c d rt" style="left:490.65px;top:311px;width:44.80px;height:20px;line-height:20px"><span>-2.1</span></div>
<div class="c d rt" style="left:537.85px;top:311px;width:47.60px;height:20px;line-height:20px"><span>851.3</span></div>
<div class="c d rt" style="left:587.85px;top:311px;width:47.20px;height:20px;line-height:20px"><span>851.3</span></div>
<div class="c d rt" style="left:637.45px;top:311px;width:47.60px;height:20px;line-height:20px"><span>851.2</span></div>
<div class="c d rt" style="left:687.45px;top:311px;width:32.30px;height:20px;line-height:20px"><span>2.0</span></div>
<div class="c d rt" style="left:722.15px;top:311px;width:51.90px;height:20px;line-height:20px"><span>291</span></div>
<div class="c d rt" style="left:776.45px;top:311px;width:33.60px;height:20px;line-height:20px"><span>4.0</span></div>
<div class="c d rt" style="left:812.45px;top:311px;width:75.80px;height:20px;line-height:20px"><span>-3.54</span></div>
<div class="c d rt" style="left:890.65px;top:311px;width:52.40px;height:20px;line-height:20px"><span>0.0</span></div>
<div class="c d ctr dt" style="left:2.40px;top:331px;width:95.35px;height:20px;line-height:20px"><span>29/05/2020</span></div>
<div class="c d ctr" style="left:100.15px;top:331px;width:41.10px;height:20px;line-height:20px"><span>08</span></div>
<div class="c d rt" style="left:143.65px;top:331px;width:41.10px;height:20px;line-height:20px"><span>-0.5</span></div>
<div class="c d rt" style="left:187.15px;top:331px;width:46.30px;height:20px;line-height:20px"><span>2.7</span></div>
<div class="c d rt" style="left:235.85px;top:331px;width:42.50px;height:20px;line-height:20px"><span>-0.8</span></div>
<div class="c d rt" style="left:280.75px;top:331px;width:37.20px;height:20px;line-height:20px"><span>87</span></div>
<div class="c d rt" style="left:320.35px;top:331px;width:41.20px;height:20px;line-height:20px"><span>87</span></div>
<div class="c d rt" style="left:363.95px;top:331px;width:37.80px;height:20px;line-height:20px"><span>77</span></div>
<div class="c d rt" style="left:404.15px;top:331px;width:38.80px;height:20px;line-height:20px"><span>-2.4</span></div>
<div class="c d rt" style="left:445.35px;top:331px;width:42.90px;height:20px;line-height:20px"><span>0.1</span></div>
<div class="c d rt" style="left:490.65px;top:331px;width:44.80px;height:20px;line-height:20px"><span>-3.0</span></div>
<div class="c d rt" style="left:537.85px;top:331px;width:47.60px;height:20px;line-height:20px"><span>851.6</span></div>
<div class="c d rt" style="left:587.85px;top:331px;width:47.20px;height:20px;line-height:20px"><span>851.7</span></div>
<div class="c d rt" style="left:637.45px;top:331px;width:47.60px;height:20px;line-height:20px"><span>851.2</span></div>
<div class="c d rt" style="left:687.45px;top:331px;width:32.30px;height:20px;line-height:20px"><span>0.8</span></div>
<div class="c d rt" style="left:722.15px;top:331px;width:51.90px;height:20px;line-height:20px"><span>289</span></div>
<div class="c d rt" style="left:776.45px;top:331px;width:33.60px;height:20px;line-height:20px"><span>3.9</span></div>
<div class="c d rt" style="left:812.45px;top:331px;width:75.80px;height:20px;line-height:20px"><span>-3.54</span></div>
<div class="c d rt" style="left:890.65px;top:331px;width:52.40px;height:20px;line-height:20px"><span>0.0</span></div>
<div class="c d ctr dt" style="left:2.40px;top:352px;width:95.35px;height:20px;line-height:20px"><span>29/05/2020</span></div>
<div class="c d ctr" style="left:100.15px;top:352px;width:41.10px;height:20px;line-height:20px"><span>09</span></div>
<div class="c d rt" style="left:143.65px;top:352px;width:41.10px;height:20px;line-height:20px"><span>-0.9</span></div>
<div class="c d rt" style="left:187.15px;top:352px;width:46.30px;height:20px;line-height:20px"><span>1.1</span></div>
<div class="c d rt" style="left:235.85px;top:352px;width:42.50px;height:20px;line-height:20px"><span>-0.9</span></div>
<div class="c d rt" style="left:280.75px;top:352px;width:37.20px;height:20px;line-height:20px"><span>86</span></div>
<div class="c d rt" style="left:320.35px;top:352px;width:41.20px;height:20px;line-height:20px"><span>88</span></div>
<div class="c d rt" style="left:363.95px;top:352px;width:37.80px;height:20px;line-height:20px"><span>83</span></div>
<div class="c d rt" style="left:404.15px;top:352px;width:38.80px;height:20px;line-height:20px"><span>-3.0</span></div>
<div class="c d rt" style="left:445.35px;top:352px;width:42.90px;height:20px;line-height:20px"><span>-0.9</span></div>
<div class="c d rt" style="left:490.65px;top:352px;width:44.80px;height:20px;line-height:20px"><span>-3.0</span></div>
<div class="c d rt" style="left:537.85px;top:352px;width:47.60px;height:20px;line-height:20px"><span>852.0</span></div>
<div class="c d rt" style="left:587.85px;top:352px;width:47.20px;height:20px;line-height:20px"><span>852.0</span></div>
<div class="c d rt" style="left:637.45px;top:352px;width:47.60px;height:20px;line-height:20px"><span>851.6</span></div>
<div class="c d rt" style="left:687.45px;top:352px;width:32.30px;height:20px;line-height:20px"><span>1.0</span></div>
<div class="c d rt" style="left:722.15px;top:352px;width:51.90px;height:20px;line-height:20px"><span>300</span></div>
<div class="c d rt" style="left:776.45px;top:352px;width:33.60px;height:20px;line-height:20px"><span>2.5</span></div>
<div class="c d rt" style="left:812.45px;top:352px;width:75.80px;height:20px;line-height:20px"><span>-3.54</span></div>
<div class="c d rt" style="left:890.65px;top:352px;width:52.40px;height:20px;line-height:20px"><span>0.0</span></div>
<div class="c d ctr dt" style="left:2.40px;top:372px;width:95.35px;height:20px;line-height:20px"><span>29/05/2020</span></div>
<div class="c d ctr" style="left:100.15px;top:372px;width:41.10px;height:20px;line-height:20px"><span>10</span></div>
<div class="c d rt" style="left:143.65px;top:372px;width:41.10px;height:20px;line-height:20px"><span>-1.0</span></div>
<div class="c d rt" style="left:187.15px;top:372px;width:46.30px;height:20px;line-height:20px"><span>0.0</span></div>
<div class="c d rt" style="left:235.85px;top:372px;width:42.50px;height:20px;line-height:20px"><span>-1.4</span></div>
<div class="c d rt" style="left:280.75px;top:372px;width:37.20px;height:20px;line-height:20px"><span>88</span></div>
<div class="c d rt" style="left:320.35px;top:372px;width:41.20px;height:20px;line-height:20px"><span>88</span></div>
<div class="c d rt" style="left:363.95px;top:372px;width:37.80px;height:20px;line-height:20px"><span>86</span></div>
<div class="c d rt" style="left:404.15px;top:372px;width:38.80px;height:20px;line-height:20px"><span>-2.8</span></div>
<div class="c d rt" style="left:445.35px;top:372px;width:42.90px;height:20px;line-height:20px"><span>-1.7</span></div>
<div class="c d rt" style="left:490.65px;top:372px;width:44.80px;height:20px;line-height:20px"><span>-3.4</span></div>
<div class="c d rt" style="left:537.85px;top:372px;width:47.60px;height:20px;line-height:20px"><span>852.3</span></div>
<div class="c d rt" style="left:587.85px;top:372px;width:47.20px;height:20px;line-height:20px"><span>852.3</span></div>
<div class="c d rt" style="left:637.45px;top:372px;width:47.60px;height:20px;line-height:20px"><span>852.0</span></div>
<div class="c d rt" style="left:687.45px;top:372px;width:32.30px;height:20px;line-height:20px"><span>1.4</span></div>
<div class="c d rt" style="left:722.15px;top:372px;width:51.90px;height:20px;line-height:20px"><span>311</span></div>
<div class="c d rt" style="left:776.45px;top:372px;width:33.60px;height:20px;line-height:20px"><span>2.3</span></div>
<div class="c d rt" style="left:812.45px;top:372px;width:75.80px;height:20px;line-height:20px"><span>28.32</span></div>
<div class="c d rt" style="left:890.65px;top:372px;width:52.40px;height:20px;line-height:20px"><span>0.0</span></div>
<div class="c d ctr dt" style="left:2.40px;top:393px;width:95.35px;height:20px;line-height:20px"><span>29/05/2020</span></div>
<div class="c d ctr" style="left:100.15px;top:393px;width:41.10px;height:20px;line-height:20px"><span>11</span></div>
<div class="c d rt" style="left:143.65px;top:393px;width:41.10px;height:20px;line-height:20px"><span>7.5</span></div>
<div class="c d rt" style="left:187.15px;top:393px;width:46.30px;height:20px;line-height:20px"><span>8.1</span></div>
<div class="c d rt" style="left:235.85px;top:393px;width:42.50px;height:20px;line-height:20px"><span>-1.0</span></div>
<div class="c d rt" style="left:280.75px;top:393px;width:37.20px;height:20px;line-height:20px"><span>69</span></div>
<div class="c d rt" style="left:320.35px;top:393px;width:41.20px;height:20px;line-height:20px"><span>88</span></div>
<div class="c d rt" style="left:363.95px;top:393px;width:37.80px;height:20px;line-height:20px"><span>67</span></div>
<div class="c d rt" style="left:404.15px;top:393px;width:38.80px;height:20px;line-height:20px"><span>2.3</span></div>
<div class="c d rt" style="left:445.35px;top:393px;width:42.90px;height:20px;line-height:20px"><span>2.9</span></div>
<div class="c d rt" style="left:490.65px;top:393px;width:44.80px;height:20px;line-height:20px"><span>-2.6</span></div>
<div class="c d rt" style="left:537.85px;top:393px;width:47.60px;height:20px;line-height:20px"><span>852.6</span></div>
<div class="c d rt" style="left:587.85px;top:393px;width:47.20px;height:20px;line-height:20px"><span>852.6</span></div>
<div class="c d rt" style="left:637.45px;top:393px;width:47.60px;height:20px;line-height:20px"><span>852.3</span></div>
<div class="c d rt" style="left:687.45px;top:393px;width:32.30px;height:20px;line-height:20px"><span>0.2</span></div>
<div class="c d rt" style="left:722.15px;top:393px;width:51.90px;height:20px;line-height:20px"><span>302</span></div>
<div class="c d rt" style="left:776.45px;top:393px;width:33.60px;height:20px;line-height:20px"><span>2.0</span></div>
<div class="c d rt" style="left:812.45px;top:393px;width:75.80px;height:20px;line-height:20px"><span>801.4</span></div>
<div class="c d rt" style="left:890.65px;top:393px;width:52.40px;height:20px;line-height:20px"><span>0.0</span></div>
<div class="c d ctr dt" style="left:2.40px;top:413px;width:95.35px;height:20px;line-height:20px"><span>29/05/2020</span></div>
<div class="c d ctr" style="left:100.15px;top:413px;width:41.10px;height:20px;line-height:20px"><span>12</span></div>
<div class="c d rt" style="left:143.65px;top:413px;width:41.10px;height:20px;line-height:20px"><span>15.0</span></div>
<div class="c d rt" style="left:187.15px;top:413px;width:46.30px;height:20px;line-height:20px"><span>15.0</span></div>
<div class="c d rt" style="left:235.85px;top:413px;width:42.50px;height:20px;line-height:20px"><span>7.5</span></div>
<div class="c d rt" style="left:280.75px;top:413px;width:37.20px;height:20px;line-height:20px"><span>47</span></div>
<div class="c d rt" style="left:320.35px;top:413px;width:41.20px;height:20px;line-height:20px"><span>71</span></div>
<div class="c d rt" style="left:363.95px;top:413px;width:37.80px;height:20px;line-height:20px"><span>46</span></div>
<div class="c d rt" style="left:404.15px;top:413px;width:38.80px;height:20px;line-height:20px"><span>3.9</span></div>
<div class="c d rt" style="left:445.35px;top:413px;width:42.90px;height:20px;line-height:20px"><span>4.2</span></div>
<div class="c d rt" style="left:490.65px;top:413px;width:44.80px;height:20px;line-height:20px"><span>0.2</span></div>
<div class="c d rt" style="left:537.85px;top:413px;width:47.60px;height:20px;line-height:20px"><span>852.6</span></div>
<div class="c d rt" style="left:587.85px;top:413px;width:47.20px;height:20px;line-height:20px"><span>852.6</span></div>
<div class="c d rt" style="left:637.45px;top:413px;width:47.60px;height:20px;line-height:20px"><span>852.5</span></div>
<div class="c d rt" style="left:687.45px;top:413px;width:32.30px;height:20px;line-height:20px"><span>0.3</span></div>
<div class="c d rt" style="left:722.15px;top:413px;width:51.90px;height:20px;line-height:20px"><span>303</span></div>
<div class="c d rt" style="left:776.45px;top:413px;width:33.60px;height:20px;line-height:20px"><span>2.2</span></div>
<div class="c d rt" style="left:812.45px;top:413px;width:75.80px;height:20px;line-height:20px"><span>1588.</span></div>
<div class="c d rt" style="left:890.65px;top:413px;width:52.40px;height:20px;line-height:20px"><span>0.0</span></div>
<div class="c d ctr dt" style="left:2.40px;top:434px;width:95.35px;height:20px;line-height:20px"><span>29/05/2020</span></div>
<div class="c d ctr" style="left:100.15px;top:434px;width:41.10px;height:20px;line-height:20px"><span>13</span></div>
<div class="c d rt" style="left:143.65px;top:434px;width:41.10px;height:20px;line-height:20px"><span>21.1</span></div>
<div class="c d rt" style="left:187.15px;top:434px;width:46.30px;height:20px;line-height:20px"><span>21.3</span></div>
<div class="c d rt" style="left:235.85px;top:434px;width:42.50px;height:20px;line-height:20px"><span>14.6</span></div>
<div class="c d rt" style="left:280.75px;top:434px;width:37.20px;height:20px;line-height:20px"><span>14</span></div>
<div class="c d rt" style="left:320.35px;top:434px;width:41.20px;height:20px;line-height:20px"><span>49</span></div>
<div class="c d rt" style="left:363.95px;top:434px;width:37.80px;height:20px;line-height:20px"><span>14</span></div>
<div class="c d rt" style="left:404.15px;top:434px;width:38.80px;height:20px;line-height:20px"><span>-7.2</span></div>
<div class="c d rt" style="left:445.35px;top:434px;width:42.90px;height:20px;line-height:20px"><span>4.6</span></div>
<div class="c d rt" style="left:490.65px;top:434px;width:44.80px;height:20px;line-height:20px"><span>-7.2</span></div>
<div class="c d rt" style="left:537.85px;top:434px;width:47.60px;height:20px;line-height:20px"><span>852.5</span></div>
<div class="c d rt" style="left:587.85px;top:434px;width:47.20px;height:20px;line-height:20px"><span>852.7</span></div>
<div class="c d rt" style="left:637.45px;top:434px;width:47.60px;height:20px;line-height:20px"><span>852.5</span></div>
<div class="c d rt" style="left:687.45px;top:434px;width:32.30px;height:20px;line-height:20px"><span>1.2</span></div>
<div class="c d rt" style="left:722.15px;top:434px;width:51.90px;height:20px;line-height:20px"><span>316</span></div>
<div class="c d rt" style="left:776.45px;top:434px;width:33.60px;height:20px;line-height:20px"><span>2.3</span></div>
<div class="c d rt" style="left:812.45px;top:434px;width:75.80px;height:20px;line-height:20px"><span>2171.</span></div>
<div class="c d rt" style="left:890.65px;top:434px;width:52.40px;height:20px;line-height:20px"><span>0.0</span></div>
<div class="c d ctr dt" style="left:2.40px;top:454px;width:95.35px;height:20px;line-height:20px"><span>29/05/2020</span></div>
<div class="c d ctr" style="left:100.15px;top:454px;width:41.10px;height:20px;line-height:20px"><span>14</span></div>
<div class="c d rt" style="left:143.65px;top:454px;width:41.10px;height:20px;line-height:20px"><span>22.1</span></div>
<div class="c d rt" style="left:187.15px;top:454px;width:46.30px;height:20px;line-height:20px"><span>22.2</span></div>
<div class="c d rt" style="left:235.85px;top:454px;width:42.50px;height:20px;line-height:20px"><span>20.9</span></div>
<div class="c d rt" style="left:280.75px;top:454px;width:37.20px;height:20px;line-height:20px"><span>15</span></div>
<div class="c d rt" style="left:320.35px;top:454px;width:41.20px;height:20px;line-height:20px"><span>20</span></div>
<div class="c d rt" style="left:363.95px;top:454px;width:37.80px;height:20px;line-height:20px"><span>11</span></div>
<div class="c d rt" style="left:404.15px;top:454px;width:38.80px;height:20px;line-height:20px"><span>-5.8</span></div>
<div class="c d rt" style="left:445.35px;top:454px;width:42.90px;height:20px;line-height:20px"><span>-2.0</span></div>
<div class="c d rt" style="left:490.65px;top:454px;width:44.80px;height:20px;line-height:20px"><span>-10.0</span></div>
<div class="c d rt" style="left:537.85px;top:454px;width:47.60px;height:20px;line-height:20px"><span>852.2</span></div>
<div class="c d rt" style="left:587.85px;top:454px;width:47.20px;height:20px;line-height:20px"><span>852.5</span></div>
<div class="c d rt" style="left:637.45px;top:454px;width:47.60px;height:20px;line-height:20px"><span>852.2</span></div>
<div class="c d rt" style="left:687.45px;top:454px;width:32.30px;height:20px;line-height:20px"><span>1.9</span></div>
<div class="c d rt" style="left:722.15px;top:454px;width:51.90px;height:20px;line-height:20px"><span>313</span></div>
<div class="c d rt" style="left:776.45px;top:454px;width:33.60px;height:20px;line-height:20px"><span>5.9</span></div>
<div class="c d rt" style="left:812.45px;top:454px;width:75.80px;height:20px;line-height:20px"><span>2585.</span></div>
<div class="c d rt" style="left:890.65px;top:454px;width:52.40px;height:20px;line-height:20px"><span>0.0</span></div>
<div class="c d ctr dt" style="left:2.40px;top:475px;width:95.35px;height:20px;line-height:20px"><span>29/05/2020</span></div>
<div class="c d ctr" style="left:100.15px;top:475px;width:41.10px;height:20px;line-height:20px"><span>15</span></div>
<div class="c d rt" style="left:143.65px;top:475px;width:41.10px;height:20px;line-height:20px"><span>22.7</span></div>
<div class="c d rt" style="left:187.15px;top:475px;width:46.30px;height:20px;line-height:20px"><span>23.1</span></div>
<div class="c d rt" style="left:235.85px;top:475px;width:42.50px;height:20px;line-height:20px"><span>21.8</span></div>
<div class="c d rt" style="left:280.75px;top:475px;width:37.20px;height:20px;line-height:20px"><span><i style="font-style:normal;letter-spacing:0.5px;margin-right:-0.5px">////</i></span></div>
<div class="c d rt" style="left:320.35px;top:475px;width:41.20px;height:20px;line-height:20px"><span>23</span></div>
<div class="c d rt" style="left:363.95px;top:475px;width:37.80px;height:20px;line-height:20px"><span><i style="font-style:normal;letter-spacing:0.5px;margin-right:-0.5px">////</i></span></div>
<div class="c d rt" style="left:404.15px;top:475px;width:38.80px;height:20px;line-height:20px"><span><i style="font-style:normal;letter-spacing:0.5px;margin-right:-0.5px">////</i></span></div>
<div class="c d rt" style="left:445.35px;top:475px;width:42.90px;height:20px;line-height:20px"><span>0.4</span></div>
<div class="c d rt" style="left:490.65px;top:475px;width:44.80px;height:20px;line-height:20px"><span><i style="font-style:normal;letter-spacing:0.5px;margin-right:-0.5px">////</i></span></div>
<div class="c d rt" style="left:537.85px;top:475px;width:47.60px;height:20px;line-height:20px"><span>851.4</span></div>
<div class="c d rt" style="left:587.85px;top:475px;width:47.20px;height:20px;line-height:20px"><span>852.2</span></div>
<div class="c d rt" style="left:637.45px;top:475px;width:47.60px;height:20px;line-height:20px"><span>851.4</span></div>
<div class="c d rt" style="left:687.45px;top:475px;width:32.30px;height:20px;line-height:20px"><span>2.7</span></div>
<div class="c d rt" style="left:722.15px;top:475px;width:51.90px;height:20px;line-height:20px"><span>315</span></div>
<div class="c d rt" style="left:776.45px;top:475px;width:33.60px;height:20px;line-height:20px"><span>5.2</span></div>
<div class="c d rt" style="left:812.45px;top:475px;width:75.80px;height:20px;line-height:20px"><span>2773.</span></div>
<div class="c d rt" style="left:890.65px;top:475px;width:52.40px;height:20px;line-height:20px"><span>0.0</span></div>
<div class="c d ctr dt" style="left:2.40px;top:495px;width:95.35px;height:20px;line-height:20px"><span>29/05/2020</span></div>
<div class="c d ctr" style="left:100.15px;top:495px;width:41.10px;height:20px;line-height:20px"><span>16</span></div>
<div class="c d rt" style="left:143.65px;top:495px;width:41.10px;height:20px;line-height:20px"><span>23.3</span></div>
<div class="c d rt" style="left:187.15px;top:495px;width:46.30px;height:20px;line-height:20px"><span>23.6</span></div>
<div class="c d rt" style="left:235.85px;top:495px;width:42.50px;height:20px;line-height:20px"><span>22.6</span></div>
<div class="c d rt" style="left:280.75px;top:495px;width:37.20px;height:20px;line-height:20px"><span><i style="font-style:normal;letter-spacing:0.5px;margin-right:-0.5px">////</i></span></div>
<div class="c d rt" style="left:320.35px;top:495px;width:41.20px;height:20px;line-height:20px"><span>7</span></div>
<div class="c d rt" style="left:363.95px;top:495px;width:37.80px;height:20px;line-height:20px"><span><i style="font-style:normal;letter-spacing:0.5px;margin-right:-0.5px">////</i></span></div>
<div class="c d rt" style="left:404.15px;top:495px;width:38.80px;height:20px;line-height:20px"><span><i style="font-style:normal;letter-spacing:0.5px;margin-right:-0.5px">////</i></span></div>
<div class="c d rt" style="left:445.35px;top:495px;width:42.90px;height:20px;line-height:20px"><span><i style="font-style:normal;letter-spacing:0.5px;margin-right:-0.5px">////</i></span></div>
<div class="c d rt" style="left:490.65px;top:495px;width:44.80px;height:20px;line-height:20px"><span><i style="font-style:normal;letter-spacing:0.5px;margin-right:-0.5px">////</i></span></div>
<div class="c d rt" style="left:537.85px;top:495px;width:47.60px;height:20px;line-height:20px"><span>850.6</span></div>
<div class="c d rt" style="left:587.85px;top:495px;width:47.20px;height:20px;line-height:20px"><span>851.4</span></div>
<div class="c d rt" style="left:637.45px;top:495px;width:47.60px;height:20px;line-height:20px"><span>850.5</span></div>
<div class="c d rt" style="left:687.45px;top:495px;width:32.30px;height:20px;line-height:20px"><span>2.0</span></div>
<div class="c d rt" style="left:722.15px;top:495px;width:51.90px;height:20px;line-height:20px"><span>304</span></div>
<div class="c d rt" style="left:776.45px;top:495px;width:33.60px;height:20px;line-height:20px"><span>5.4</span></div>
<div class="c d rt" style="left:812.45px;top:495px;width:75.80px;height:20px;line-height:20px"><span>2732.</span></div>
<div class="c d rt" style="left:890.65px;top:495px;width:52.40px;height:20px;line-height:20px"><span>0.0</span></div>
</body>
</html>
